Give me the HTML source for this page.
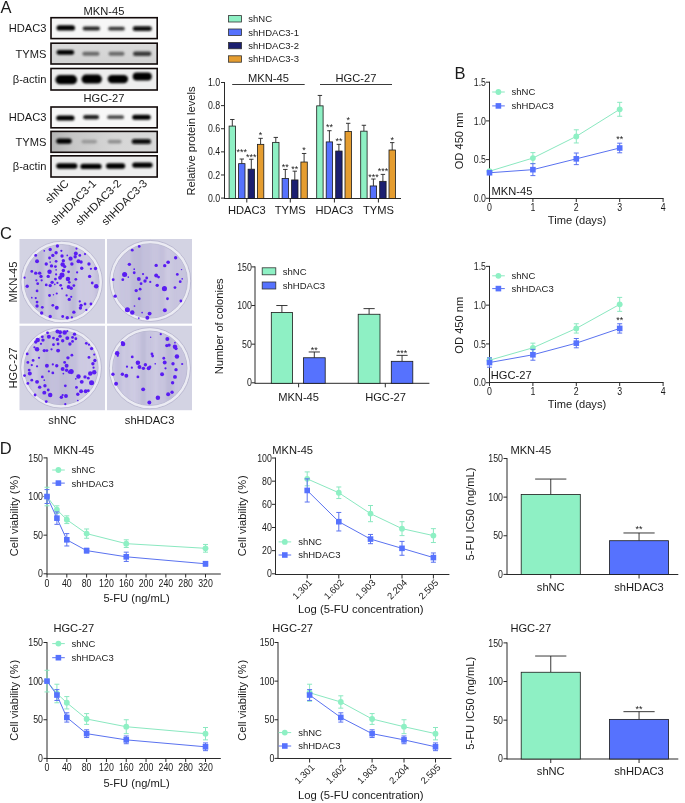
<!DOCTYPE html>
<html><head><meta charset="utf-8"><style>
html,body{margin:0;padding:0;background:#fff;}
svg{display:block;font-family:"Liberation Sans", sans-serif;filter:blur(0.4px);}
</style></head><body>
<svg width="685" height="803" viewBox="0 0 685 803">
<rect width="685" height="803" fill="#fff"/>
<text x="0.60" y="12.60" font-size="16.5" text-anchor="start" fill="#1a1a1a">A</text>
<text x="454.40" y="78.90" font-size="16.5" text-anchor="start" fill="#1a1a1a">B</text>
<text x="0.00" y="239.00" font-size="16.5" text-anchor="start" fill="#1a1a1a">C</text>
<text x="-0.20" y="454.30" font-size="16.5" text-anchor="start" fill="#1a1a1a">D</text>
<defs><linearGradient id="g5" x1="0" x2="1" y1="0" y2="0"><stop offset="0" stop-color="#b4b4b4"/><stop offset="0.2" stop-color="#c6c6c6"/><stop offset="0.6" stop-color="#d6d6d6"/><stop offset="1" stop-color="#d8d8d8"/></linearGradient><linearGradient id="g2" x1="0" x2="0" y1="0" y2="1"><stop offset="0" stop-color="#dadada"/><stop offset="1" stop-color="#d2d2d2"/></linearGradient></defs>
<defs><filter id="bl" x="-30%" y="-100%" width="160%" height="300%"><feGaussianBlur stdDeviation="0.85"/></filter><filter id="bl2" x="-30%" y="-100%" width="160%" height="300%"><feGaussianBlur stdDeviation="0.6"/></filter></defs>
<rect x="51.00" y="17.70" width="106.20" height="20.90" fill="#f6f6f6" stroke="#120a0a" stroke-width="1.6"/>
<rect x="56.50" y="25.20" width="18.50" height="5.40" rx="2.70" fill="rgb(0,0,0)" filter="url(#bl)"/>
<rect x="82.70" y="26.40" width="17.30" height="4.00" rx="2.00" fill="rgb(38,38,38)" filter="url(#bl)"/>
<rect x="108.20" y="26.80" width="16.60" height="3.80" rx="1.90" fill="rgb(57,57,57)" filter="url(#bl)"/>
<rect x="132.70" y="26.30" width="19.10" height="4.80" rx="2.40" fill="rgb(9,9,9)" filter="url(#bl)"/>
<rect x="51.00" y="43.20" width="106.20" height="20.80" fill="url(#g2)" stroke="#120a0a" stroke-width="1.6"/>
<rect x="56.50" y="50.00" width="17.70" height="4.80" rx="2.40" fill="rgb(0,0,0)" filter="url(#bl)"/>
<rect x="82.30" y="51.70" width="17.20" height="4.00" rx="2.00" fill="rgb(105,105,105)" filter="url(#bl)"/>
<rect x="108.50" y="51.70" width="16.00" height="4.00" rx="2.00" fill="rgb(105,105,105)" filter="url(#bl)"/>
<rect x="133.00" y="51.50" width="18.30" height="4.40" rx="2.20" fill="rgb(57,57,57)" filter="url(#bl)"/>
<rect x="51.00" y="68.50" width="106.20" height="21.50" fill="#eeeeee" stroke="#120a0a" stroke-width="1.6"/>
<rect x="55.40" y="75.10" width="21.70" height="9.20" rx="4.60" fill="rgb(0,0,0)" filter="url(#bl)"/>
<rect x="81.50" y="74.60" width="20.50" height="9.00" rx="4.50" fill="rgb(0,0,0)" filter="url(#bl)"/>
<rect x="107.70" y="74.90" width="20.40" height="8.40" rx="4.20" fill="rgb(0,0,0)" filter="url(#bl)"/>
<rect x="132.70" y="72.60" width="19.10" height="7.80" rx="3.90" fill="rgb(0,0,0)" filter="url(#bl)"/>
<rect x="51.00" y="107.00" width="106.20" height="20.80" fill="#f7f7f7" stroke="#120a0a" stroke-width="1.6"/>
<rect x="56.20" y="115.40" width="18.30" height="5.20" rx="2.60" fill="rgb(0,0,0)" filter="url(#bl)"/>
<rect x="83.20" y="115.10" width="15.80" height="4.20" rx="2.10" fill="rgb(28,28,28)" filter="url(#bl)"/>
<rect x="107.20" y="115.30" width="16.80" height="3.80" rx="1.90" fill="rgb(76,76,76)" filter="url(#bl)"/>
<rect x="132.20" y="114.70" width="18.50" height="5.00" rx="2.50" fill="rgb(0,0,0)" filter="url(#bl)"/>
<rect x="51.00" y="131.40" width="106.20" height="20.90" fill="url(#g5)" stroke="#120a0a" stroke-width="1.6"/>
<rect x="56.20" y="138.50" width="15.50" height="5.20" rx="2.60" fill="rgb(0,0,0)" filter="url(#bl)"/>
<rect x="81.50" y="139.70" width="15.50" height="3.80" rx="1.90" fill="rgb(153,153,153)" filter="url(#bl)"/>
<rect x="107.70" y="139.70" width="13.90" height="3.80" rx="1.90" fill="rgb(143,143,143)" filter="url(#bl)"/>
<rect x="131.70" y="138.90" width="19.30" height="5.00" rx="2.50" fill="rgb(9,9,9)" filter="url(#bl)"/>
<rect x="51.00" y="155.80" width="106.20" height="21.20" fill="#eeeeee" stroke="#120a0a" stroke-width="1.6"/>
<rect x="56.20" y="163.30" width="21.20" height="5.40" rx="2.70" fill="rgb(0,0,0)" filter="url(#bl)"/>
<rect x="80.40" y="163.80" width="21.20" height="5.20" rx="2.60" fill="rgb(0,0,0)" filter="url(#bl)"/>
<rect x="106.00" y="163.30" width="19.20" height="5.40" rx="2.70" fill="rgb(0,0,0)" filter="url(#bl)"/>
<rect x="132.20" y="162.50" width="20.40" height="5.20" rx="2.60" fill="rgb(0,0,0)" filter="url(#bl)"/>
<text x="46.40" y="32.05" font-size="11.15" text-anchor="end" fill="#1a1a1a">HDAC3</text>
<text x="46.40" y="57.50" font-size="11.15" text-anchor="end" fill="#1a1a1a">TYMS</text>
<text x="46.40" y="83.15" font-size="11.15" text-anchor="end" fill="#1a1a1a">β-actin</text>
<text x="46.40" y="121.30" font-size="11.15" text-anchor="end" fill="#1a1a1a">HDAC3</text>
<text x="46.40" y="145.75" font-size="11.15" text-anchor="end" fill="#1a1a1a">TYMS</text>
<text x="46.40" y="170.30" font-size="11.15" text-anchor="end" fill="#1a1a1a">β-actin</text>
<text x="104.00" y="14.80" font-size="11.15" text-anchor="middle" fill="#1a1a1a">MKN-45</text>
<text x="104.00" y="101.80" font-size="11.15" text-anchor="middle" fill="#1a1a1a">HGC-27</text>
<text x="69.50" y="184.20" font-size="11.15" text-anchor="end" fill="#1a1a1a" transform="rotate(-45 69.5 184.2)">shNC</text>
<text x="97.00" y="184.00" font-size="11.15" text-anchor="end" fill="#1a1a1a" transform="rotate(-45 97 184)">shHDAC3-1</text>
<text x="122.00" y="184.00" font-size="11.15" text-anchor="end" fill="#1a1a1a" transform="rotate(-45 122 184)">shHDAC3-2</text>
<text x="148.00" y="184.00" font-size="11.15" text-anchor="end" fill="#1a1a1a" transform="rotate(-45 148 184)">shHDAC3-3</text>
<line x1="224.50" y1="82.00" x2="224.50" y2="199.00" stroke="#2a2a2a" stroke-width="1"/>
<line x1="224.50" y1="198.50" x2="401.00" y2="198.50" stroke="#2a2a2a" stroke-width="1"/>
<line x1="221.00" y1="198.10" x2="224.50" y2="198.10" stroke="#2a2a2a" stroke-width="1"/>
<text transform="translate(220.20 201.72) scale(1 1.15)" font-size="8.8" text-anchor="end" fill="#1a1a1a">0.0</text>
<line x1="221.00" y1="174.98" x2="224.50" y2="174.98" stroke="#2a2a2a" stroke-width="1"/>
<text transform="translate(220.20 178.60) scale(1 1.15)" font-size="8.8" text-anchor="end" fill="#1a1a1a">0.2</text>
<line x1="221.00" y1="151.86" x2="224.50" y2="151.86" stroke="#2a2a2a" stroke-width="1"/>
<text transform="translate(220.20 155.48) scale(1 1.15)" font-size="8.8" text-anchor="end" fill="#1a1a1a">0.4</text>
<line x1="221.00" y1="128.74" x2="224.50" y2="128.74" stroke="#2a2a2a" stroke-width="1"/>
<text transform="translate(220.20 132.36) scale(1 1.15)" font-size="8.8" text-anchor="end" fill="#1a1a1a">0.6</text>
<line x1="221.00" y1="105.62" x2="224.50" y2="105.62" stroke="#2a2a2a" stroke-width="1"/>
<text transform="translate(220.20 109.24) scale(1 1.15)" font-size="8.8" text-anchor="end" fill="#1a1a1a">0.8</text>
<line x1="221.00" y1="82.50" x2="224.50" y2="82.50" stroke="#2a2a2a" stroke-width="1"/>
<text transform="translate(220.20 86.12) scale(1 1.15)" font-size="8.8" text-anchor="end" fill="#1a1a1a">1.0</text>
<line x1="246.80" y1="198.50" x2="246.80" y2="202.50" stroke="#2a2a2a" stroke-width="1"/>
<text x="246.80" y="214.40" font-size="11.15" text-anchor="middle" fill="#1a1a1a">HDAC3</text>
<line x1="290.30" y1="198.50" x2="290.30" y2="202.50" stroke="#2a2a2a" stroke-width="1"/>
<text x="290.30" y="214.40" font-size="11.15" text-anchor="middle" fill="#1a1a1a">TYMS</text>
<line x1="334.40" y1="198.50" x2="334.40" y2="202.50" stroke="#2a2a2a" stroke-width="1"/>
<text x="334.40" y="214.40" font-size="11.15" text-anchor="middle" fill="#1a1a1a">HDAC3</text>
<line x1="378.40" y1="198.50" x2="378.40" y2="202.50" stroke="#2a2a2a" stroke-width="1"/>
<text x="378.40" y="214.40" font-size="11.15" text-anchor="middle" fill="#1a1a1a">TYMS</text>
<line x1="232.30" y1="126.08" x2="232.30" y2="119.49" stroke="#222" stroke-width="0.9"/>
<line x1="230.10" y1="119.49" x2="234.50" y2="119.49" stroke="#222" stroke-width="0.9"/>
<rect x="229.10" y="126.08" width="6.40" height="72.42" fill="#8ef0c4" stroke="#1a1a1a" stroke-width="0.8"/>
<line x1="241.80" y1="163.65" x2="241.80" y2="159.03" stroke="#222" stroke-width="0.9"/>
<line x1="239.60" y1="159.03" x2="244.00" y2="159.03" stroke="#222" stroke-width="0.9"/>
<rect x="238.60" y="163.65" width="6.40" height="34.85" fill="#5672fe" stroke="#1a1a1a" stroke-width="0.8"/>
<text x="241.80" y="155.38" font-size="9" text-anchor="middle" fill="#1a1a1a">***</text>
<line x1="251.30" y1="169.20" x2="251.30" y2="159.26" stroke="#222" stroke-width="0.9"/>
<line x1="249.10" y1="159.26" x2="253.50" y2="159.26" stroke="#222" stroke-width="0.9"/>
<rect x="248.10" y="169.20" width="6.40" height="29.30" fill="#1b1f70" stroke="#1a1a1a" stroke-width="0.8"/>
<text x="251.30" y="160.38" font-size="9" text-anchor="middle" fill="#1a1a1a">***</text>
<line x1="260.60" y1="144.35" x2="260.60" y2="138.33" stroke="#222" stroke-width="0.9"/>
<line x1="258.40" y1="138.33" x2="262.80" y2="138.33" stroke="#222" stroke-width="0.9"/>
<rect x="257.40" y="144.35" width="6.40" height="54.15" fill="#e59d30" stroke="#1a1a1a" stroke-width="0.8"/>
<text x="260.60" y="138.38" font-size="9" text-anchor="middle" fill="#1a1a1a">*</text>
<line x1="275.80" y1="142.38" x2="275.80" y2="137.41" stroke="#222" stroke-width="0.9"/>
<line x1="273.60" y1="137.41" x2="278.00" y2="137.41" stroke="#222" stroke-width="0.9"/>
<rect x="272.60" y="142.38" width="6.40" height="56.12" fill="#8ef0c4" stroke="#1a1a1a" stroke-width="0.8"/>
<line x1="285.30" y1="178.45" x2="285.30" y2="169.43" stroke="#222" stroke-width="0.9"/>
<line x1="283.10" y1="169.43" x2="287.50" y2="169.43" stroke="#222" stroke-width="0.9"/>
<rect x="282.10" y="178.45" width="6.40" height="20.05" fill="#5672fe" stroke="#1a1a1a" stroke-width="0.8"/>
<text x="285.30" y="170.18" font-size="9" text-anchor="middle" fill="#1a1a1a">**</text>
<line x1="294.80" y1="179.95" x2="294.80" y2="171.17" stroke="#222" stroke-width="0.9"/>
<line x1="292.60" y1="171.17" x2="297.00" y2="171.17" stroke="#222" stroke-width="0.9"/>
<rect x="291.60" y="179.95" width="6.40" height="18.55" fill="#1b1f70" stroke="#1a1a1a" stroke-width="0.8"/>
<text x="294.80" y="171.68" font-size="9" text-anchor="middle" fill="#1a1a1a">**</text>
<line x1="304.10" y1="162.03" x2="304.10" y2="153.48" stroke="#222" stroke-width="0.9"/>
<line x1="301.90" y1="153.48" x2="306.30" y2="153.48" stroke="#222" stroke-width="0.9"/>
<rect x="300.90" y="162.03" width="6.40" height="36.47" fill="#e59d30" stroke="#1a1a1a" stroke-width="0.8"/>
<text x="304.10" y="152.68" font-size="9" text-anchor="middle" fill="#1a1a1a">*</text>
<line x1="319.90" y1="105.85" x2="319.90" y2="95.45" stroke="#222" stroke-width="0.9"/>
<line x1="317.70" y1="95.45" x2="322.10" y2="95.45" stroke="#222" stroke-width="0.9"/>
<rect x="316.70" y="105.85" width="6.40" height="92.65" fill="#8ef0c4" stroke="#1a1a1a" stroke-width="0.8"/>
<line x1="329.40" y1="141.92" x2="329.40" y2="130.71" stroke="#222" stroke-width="0.9"/>
<line x1="327.20" y1="130.71" x2="331.60" y2="130.71" stroke="#222" stroke-width="0.9"/>
<rect x="326.20" y="141.92" width="6.40" height="56.58" fill="#5672fe" stroke="#1a1a1a" stroke-width="0.8"/>
<text x="329.40" y="130.48" font-size="9" text-anchor="middle" fill="#1a1a1a">**</text>
<line x1="338.90" y1="151.05" x2="338.90" y2="144.35" stroke="#222" stroke-width="0.9"/>
<line x1="336.70" y1="144.35" x2="341.10" y2="144.35" stroke="#222" stroke-width="0.9"/>
<rect x="335.70" y="151.05" width="6.40" height="47.45" fill="#1b1f70" stroke="#1a1a1a" stroke-width="0.8"/>
<text x="338.90" y="143.58" font-size="9" text-anchor="middle" fill="#1a1a1a">**</text>
<line x1="348.20" y1="131.51" x2="348.20" y2="123.31" stroke="#222" stroke-width="0.9"/>
<line x1="346.00" y1="123.31" x2="350.40" y2="123.31" stroke="#222" stroke-width="0.9"/>
<rect x="345.00" y="131.51" width="6.40" height="66.99" fill="#e59d30" stroke="#1a1a1a" stroke-width="0.8"/>
<text x="348.20" y="123.48" font-size="9" text-anchor="middle" fill="#1a1a1a">*</text>
<line x1="363.90" y1="131.17" x2="363.90" y2="125.27" stroke="#222" stroke-width="0.9"/>
<line x1="361.70" y1="125.27" x2="366.10" y2="125.27" stroke="#222" stroke-width="0.9"/>
<rect x="360.70" y="131.17" width="6.40" height="67.33" fill="#8ef0c4" stroke="#1a1a1a" stroke-width="0.8"/>
<line x1="373.40" y1="185.96" x2="373.40" y2="179.03" stroke="#222" stroke-width="0.9"/>
<line x1="371.20" y1="179.03" x2="375.60" y2="179.03" stroke="#222" stroke-width="0.9"/>
<rect x="370.20" y="185.96" width="6.40" height="12.54" fill="#5672fe" stroke="#1a1a1a" stroke-width="0.8"/>
<text x="373.40" y="179.58" font-size="9" text-anchor="middle" fill="#1a1a1a">***</text>
<line x1="382.90" y1="181.34" x2="382.90" y2="174.40" stroke="#222" stroke-width="0.9"/>
<line x1="380.70" y1="174.40" x2="385.10" y2="174.40" stroke="#222" stroke-width="0.9"/>
<rect x="379.70" y="181.34" width="6.40" height="17.16" fill="#1b1f70" stroke="#1a1a1a" stroke-width="0.8"/>
<text x="382.90" y="173.88" font-size="9" text-anchor="middle" fill="#1a1a1a">***</text>
<line x1="392.20" y1="150.01" x2="392.20" y2="142.61" stroke="#222" stroke-width="0.9"/>
<line x1="390.00" y1="142.61" x2="394.40" y2="142.61" stroke="#222" stroke-width="0.9"/>
<rect x="389.00" y="150.01" width="6.40" height="48.49" fill="#e59d30" stroke="#1a1a1a" stroke-width="0.8"/>
<text x="392.20" y="143.38" font-size="9" text-anchor="middle" fill="#1a1a1a">*</text>
<line x1="232.20" y1="84.50" x2="304.70" y2="84.50" stroke="#222" stroke-width="0.9"/>
<line x1="320.00" y1="84.50" x2="392.00" y2="84.50" stroke="#222" stroke-width="0.9"/>
<text x="268.50" y="81.50" font-size="11.15" text-anchor="middle" fill="#1a1a1a">MKN-45</text>
<text x="356.00" y="81.50" font-size="11.15" text-anchor="middle" fill="#1a1a1a">HGC-27</text>
<text x="194.80" y="141.00" font-size="11.15" text-anchor="middle" fill="#1a1a1a" transform="rotate(-90 194.8 141)">Relative protein levels</text>
<rect x="228.40" y="15.60" width="13.20" height="6.40" fill="#8ef0c4" stroke="#333" stroke-width="0.8"/>
<text x="248.30" y="22.20" font-size="9.5" text-anchor="start" fill="#1a1a1a">shNC</text>
<rect x="228.40" y="29.00" width="13.20" height="6.40" fill="#5672fe" stroke="#333" stroke-width="0.8"/>
<text x="248.30" y="35.60" font-size="9.5" text-anchor="start" fill="#1a1a1a">shHDAC3-1</text>
<rect x="228.40" y="42.40" width="13.20" height="6.40" fill="#1b1f70" stroke="#333" stroke-width="0.8"/>
<text x="248.30" y="49.00" font-size="9.5" text-anchor="start" fill="#1a1a1a">shHDAC3-2</text>
<rect x="228.40" y="55.80" width="13.20" height="6.40" fill="#e59d30" stroke="#333" stroke-width="0.8"/>
<text x="248.30" y="62.40" font-size="9.5" text-anchor="start" fill="#1a1a1a">shHDAC3-3</text>
<line x1="489.50" y1="81.70" x2="489.50" y2="199.00" stroke="#2a2a2a" stroke-width="1"/>
<line x1="489.50" y1="198.50" x2="663.60" y2="198.50" stroke="#2a2a2a" stroke-width="1"/>
<line x1="486.00" y1="198.30" x2="489.50" y2="198.30" stroke="#2a2a2a" stroke-width="1"/>
<text transform="translate(486.00 201.92) scale(1 1.15)" font-size="8.8" text-anchor="end" fill="#1a1a1a">0.0</text>
<line x1="486.00" y1="159.60" x2="489.50" y2="159.60" stroke="#2a2a2a" stroke-width="1"/>
<text transform="translate(486.00 163.22) scale(1 1.15)" font-size="8.8" text-anchor="end" fill="#1a1a1a">0.5</text>
<line x1="486.00" y1="120.90" x2="489.50" y2="120.90" stroke="#2a2a2a" stroke-width="1"/>
<text transform="translate(486.00 124.52) scale(1 1.15)" font-size="8.8" text-anchor="end" fill="#1a1a1a">1.0</text>
<line x1="486.00" y1="82.20" x2="489.50" y2="82.20" stroke="#2a2a2a" stroke-width="1"/>
<text transform="translate(486.00 85.82) scale(1 1.15)" font-size="8.8" text-anchor="end" fill="#1a1a1a">1.5</text>
<line x1="489.50" y1="198.50" x2="489.50" y2="202.00" stroke="#2a2a2a" stroke-width="1"/>
<text transform="translate(489.50 210.92) scale(1 1.15)" font-size="8.8" text-anchor="middle" fill="#1a1a1a">0</text>
<line x1="532.90" y1="198.50" x2="532.90" y2="202.00" stroke="#2a2a2a" stroke-width="1"/>
<text transform="translate(532.90 210.92) scale(1 1.15)" font-size="8.8" text-anchor="middle" fill="#1a1a1a">1</text>
<line x1="576.30" y1="198.50" x2="576.30" y2="202.00" stroke="#2a2a2a" stroke-width="1"/>
<text transform="translate(576.30 210.92) scale(1 1.15)" font-size="8.8" text-anchor="middle" fill="#1a1a1a">2</text>
<line x1="619.70" y1="198.50" x2="619.70" y2="202.00" stroke="#2a2a2a" stroke-width="1"/>
<text transform="translate(619.70 210.92) scale(1 1.15)" font-size="8.8" text-anchor="middle" fill="#1a1a1a">3</text>
<line x1="663.10" y1="198.50" x2="663.10" y2="202.00" stroke="#2a2a2a" stroke-width="1"/>
<text transform="translate(663.10 210.92) scale(1 1.15)" font-size="8.8" text-anchor="middle" fill="#1a1a1a">4</text>
<text x="577.00" y="223.50" font-size="11.15" text-anchor="middle" fill="#1a1a1a">Time (days)</text>
<text x="463.20" y="140.85" font-size="11.15" text-anchor="middle" fill="#1a1a1a" transform="rotate(-90 463.2 140.85)">OD 450 nm</text>
<text x="491.60" y="195.00" font-size="11.15" text-anchor="start" fill="#1a1a1a">MKN-45</text>
<polyline points="489.50,171.21 532.90,158.05 576.30,136.38 619.70,109.29" fill="none" stroke="#8ae8c0" stroke-width="1"/>
<line x1="489.50" y1="172.76" x2="489.50" y2="169.66" stroke="#8ae8c0" stroke-width="1"/>
<line x1="487.00" y1="172.76" x2="492.00" y2="172.76" stroke="#8ae8c0" stroke-width="1"/>
<line x1="487.00" y1="169.66" x2="492.00" y2="169.66" stroke="#8ae8c0" stroke-width="1"/>
<circle cx="489.50" cy="171.21" r="2.9" fill="#8ef0c4"/>
<line x1="532.90" y1="163.47" x2="532.90" y2="152.63" stroke="#8ae8c0" stroke-width="1"/>
<line x1="530.40" y1="163.47" x2="535.40" y2="163.47" stroke="#8ae8c0" stroke-width="1"/>
<line x1="530.40" y1="152.63" x2="535.40" y2="152.63" stroke="#8ae8c0" stroke-width="1"/>
<circle cx="532.90" cy="158.05" r="2.9" fill="#8ef0c4"/>
<line x1="576.30" y1="142.96" x2="576.30" y2="129.80" stroke="#8ae8c0" stroke-width="1"/>
<line x1="573.80" y1="142.96" x2="578.80" y2="142.96" stroke="#8ae8c0" stroke-width="1"/>
<line x1="573.80" y1="129.80" x2="578.80" y2="129.80" stroke="#8ae8c0" stroke-width="1"/>
<circle cx="576.30" cy="136.38" r="2.9" fill="#8ef0c4"/>
<line x1="619.70" y1="116.26" x2="619.70" y2="102.32" stroke="#8ae8c0" stroke-width="1"/>
<line x1="617.20" y1="116.26" x2="622.20" y2="116.26" stroke="#8ae8c0" stroke-width="1"/>
<line x1="617.20" y1="102.32" x2="622.20" y2="102.32" stroke="#8ae8c0" stroke-width="1"/>
<circle cx="619.70" cy="109.29" r="2.9" fill="#8ef0c4"/>
<polyline points="489.50,172.76 532.90,169.66 576.30,158.83 619.70,147.99" fill="none" stroke="#5a72f0" stroke-width="1"/>
<line x1="489.50" y1="174.31" x2="489.50" y2="171.21" stroke="#5a72f0" stroke-width="1"/>
<line x1="487.00" y1="174.31" x2="492.00" y2="174.31" stroke="#5a72f0" stroke-width="1"/>
<line x1="487.00" y1="171.21" x2="492.00" y2="171.21" stroke="#5a72f0" stroke-width="1"/>
<rect x="486.70" y="169.96" width="5.60" height="5.60" fill="#5672fe"/>
<line x1="532.90" y1="175.62" x2="532.90" y2="163.70" stroke="#5a72f0" stroke-width="1"/>
<line x1="530.40" y1="175.62" x2="535.40" y2="175.62" stroke="#5a72f0" stroke-width="1"/>
<line x1="530.40" y1="163.70" x2="535.40" y2="163.70" stroke="#5a72f0" stroke-width="1"/>
<rect x="530.10" y="166.86" width="5.60" height="5.60" fill="#5672fe"/>
<line x1="576.30" y1="164.63" x2="576.30" y2="153.02" stroke="#5a72f0" stroke-width="1"/>
<line x1="573.80" y1="164.63" x2="578.80" y2="164.63" stroke="#5a72f0" stroke-width="1"/>
<line x1="573.80" y1="153.02" x2="578.80" y2="153.02" stroke="#5a72f0" stroke-width="1"/>
<rect x="573.50" y="156.03" width="5.60" height="5.60" fill="#5672fe"/>
<line x1="619.70" y1="152.79" x2="619.70" y2="143.19" stroke="#5a72f0" stroke-width="1"/>
<line x1="617.20" y1="152.79" x2="622.20" y2="152.79" stroke="#5a72f0" stroke-width="1"/>
<line x1="617.20" y1="143.19" x2="622.20" y2="143.19" stroke="#5a72f0" stroke-width="1"/>
<rect x="616.90" y="145.19" width="5.60" height="5.60" fill="#5672fe"/>
<text x="619.70" y="142.08" font-size="9" text-anchor="middle" fill="#1a1a1a">**</text>
<line x1="492.20" y1="92.00" x2="504.80" y2="92.00" stroke="#8ae8c0" stroke-width="1"/>
<circle cx="498.40" cy="92.00" r="2.9" fill="#8ef0c4"/>
<text x="511.50" y="95.40" font-size="9.5" text-anchor="start" fill="#1a1a1a">shNC</text>
<line x1="492.20" y1="105.90" x2="504.80" y2="105.90" stroke="#5a72f0" stroke-width="1"/>
<rect x="495.60" y="103.10" width="5.60" height="5.60" fill="#5672fe"/>
<text x="511.50" y="109.30" font-size="9.5" text-anchor="start" fill="#1a1a1a">shHDAC3</text>
<line x1="489.50" y1="265.88" x2="489.50" y2="383.00" stroke="#2a2a2a" stroke-width="1"/>
<line x1="489.50" y1="382.50" x2="663.60" y2="382.50" stroke="#2a2a2a" stroke-width="1"/>
<line x1="486.00" y1="382.70" x2="489.50" y2="382.70" stroke="#2a2a2a" stroke-width="1"/>
<text transform="translate(486.00 386.32) scale(1 1.15)" font-size="8.8" text-anchor="end" fill="#1a1a1a">0.0</text>
<line x1="486.00" y1="343.93" x2="489.50" y2="343.93" stroke="#2a2a2a" stroke-width="1"/>
<text transform="translate(486.00 347.55) scale(1 1.15)" font-size="8.8" text-anchor="end" fill="#1a1a1a">0.5</text>
<line x1="486.00" y1="305.15" x2="489.50" y2="305.15" stroke="#2a2a2a" stroke-width="1"/>
<text transform="translate(486.00 308.77) scale(1 1.15)" font-size="8.8" text-anchor="end" fill="#1a1a1a">1.0</text>
<line x1="486.00" y1="266.38" x2="489.50" y2="266.38" stroke="#2a2a2a" stroke-width="1"/>
<text transform="translate(486.00 270.00) scale(1 1.15)" font-size="8.8" text-anchor="end" fill="#1a1a1a">1.5</text>
<line x1="489.50" y1="382.50" x2="489.50" y2="386.00" stroke="#2a2a2a" stroke-width="1"/>
<text transform="translate(489.50 395.32) scale(1 1.15)" font-size="8.8" text-anchor="middle" fill="#1a1a1a">0</text>
<line x1="532.90" y1="382.50" x2="532.90" y2="386.00" stroke="#2a2a2a" stroke-width="1"/>
<text transform="translate(532.90 395.32) scale(1 1.15)" font-size="8.8" text-anchor="middle" fill="#1a1a1a">1</text>
<line x1="576.30" y1="382.50" x2="576.30" y2="386.00" stroke="#2a2a2a" stroke-width="1"/>
<text transform="translate(576.30 395.32) scale(1 1.15)" font-size="8.8" text-anchor="middle" fill="#1a1a1a">2</text>
<line x1="619.70" y1="382.50" x2="619.70" y2="386.00" stroke="#2a2a2a" stroke-width="1"/>
<text transform="translate(619.70 395.32) scale(1 1.15)" font-size="8.8" text-anchor="middle" fill="#1a1a1a">3</text>
<line x1="663.10" y1="382.50" x2="663.10" y2="386.00" stroke="#2a2a2a" stroke-width="1"/>
<text transform="translate(663.10 395.32) scale(1 1.15)" font-size="8.8" text-anchor="middle" fill="#1a1a1a">4</text>
<text x="577.00" y="407.90" font-size="11.15" text-anchor="middle" fill="#1a1a1a">Time (days)</text>
<text x="463.20" y="325.14" font-size="11.15" text-anchor="middle" fill="#1a1a1a" transform="rotate(-90 463.2 325.13750000000005)">OD 450 nm</text>
<text x="490.80" y="379.40" font-size="11.15" text-anchor="start" fill="#1a1a1a">HGC-27</text>
<polyline points="489.50,360.21 532.90,347.80 576.30,328.41 619.70,304.37" fill="none" stroke="#8ae8c0" stroke-width="1"/>
<line x1="489.50" y1="362.54" x2="489.50" y2="357.88" stroke="#8ae8c0" stroke-width="1"/>
<line x1="487.00" y1="362.54" x2="492.00" y2="362.54" stroke="#8ae8c0" stroke-width="1"/>
<line x1="487.00" y1="357.88" x2="492.00" y2="357.88" stroke="#8ae8c0" stroke-width="1"/>
<circle cx="489.50" cy="360.21" r="2.9" fill="#8ef0c4"/>
<line x1="532.90" y1="352.46" x2="532.90" y2="343.15" stroke="#8ae8c0" stroke-width="1"/>
<line x1="530.40" y1="352.46" x2="535.40" y2="352.46" stroke="#8ae8c0" stroke-width="1"/>
<line x1="530.40" y1="343.15" x2="535.40" y2="343.15" stroke="#8ae8c0" stroke-width="1"/>
<circle cx="532.90" cy="347.80" r="2.9" fill="#8ef0c4"/>
<line x1="576.30" y1="333.07" x2="576.30" y2="323.76" stroke="#8ae8c0" stroke-width="1"/>
<line x1="573.80" y1="333.07" x2="578.80" y2="333.07" stroke="#8ae8c0" stroke-width="1"/>
<line x1="573.80" y1="323.76" x2="578.80" y2="323.76" stroke="#8ae8c0" stroke-width="1"/>
<circle cx="576.30" cy="328.41" r="2.9" fill="#8ef0c4"/>
<line x1="619.70" y1="311.35" x2="619.70" y2="297.39" stroke="#8ae8c0" stroke-width="1"/>
<line x1="617.20" y1="311.35" x2="622.20" y2="311.35" stroke="#8ae8c0" stroke-width="1"/>
<line x1="617.20" y1="297.39" x2="622.20" y2="297.39" stroke="#8ae8c0" stroke-width="1"/>
<circle cx="619.70" cy="304.37" r="2.9" fill="#8ef0c4"/>
<polyline points="489.50,362.54 532.90,354.78 576.30,343.15 619.70,328.41" fill="none" stroke="#5a72f0" stroke-width="1"/>
<line x1="489.50" y1="367.19" x2="489.50" y2="357.88" stroke="#5a72f0" stroke-width="1"/>
<line x1="487.00" y1="367.19" x2="492.00" y2="367.19" stroke="#5a72f0" stroke-width="1"/>
<line x1="487.00" y1="357.88" x2="492.00" y2="357.88" stroke="#5a72f0" stroke-width="1"/>
<rect x="486.70" y="359.74" width="5.60" height="5.60" fill="#5672fe"/>
<line x1="532.90" y1="360.21" x2="532.90" y2="349.35" stroke="#5a72f0" stroke-width="1"/>
<line x1="530.40" y1="360.21" x2="535.40" y2="360.21" stroke="#5a72f0" stroke-width="1"/>
<line x1="530.40" y1="349.35" x2="535.40" y2="349.35" stroke="#5a72f0" stroke-width="1"/>
<rect x="530.10" y="351.98" width="5.60" height="5.60" fill="#5672fe"/>
<line x1="576.30" y1="347.80" x2="576.30" y2="338.50" stroke="#5a72f0" stroke-width="1"/>
<line x1="573.80" y1="347.80" x2="578.80" y2="347.80" stroke="#5a72f0" stroke-width="1"/>
<line x1="573.80" y1="338.50" x2="578.80" y2="338.50" stroke="#5a72f0" stroke-width="1"/>
<rect x="573.50" y="340.35" width="5.60" height="5.60" fill="#5672fe"/>
<line x1="619.70" y1="333.07" x2="619.70" y2="323.76" stroke="#5a72f0" stroke-width="1"/>
<line x1="617.20" y1="333.07" x2="622.20" y2="333.07" stroke="#5a72f0" stroke-width="1"/>
<line x1="617.20" y1="323.76" x2="622.20" y2="323.76" stroke="#5a72f0" stroke-width="1"/>
<rect x="616.90" y="325.61" width="5.60" height="5.60" fill="#5672fe"/>
<text x="619.70" y="323.38" font-size="9" text-anchor="middle" fill="#1a1a1a">**</text>
<line x1="492.20" y1="275.80" x2="504.80" y2="275.80" stroke="#8ae8c0" stroke-width="1"/>
<circle cx="498.40" cy="275.80" r="2.9" fill="#8ef0c4"/>
<text x="511.50" y="279.20" font-size="9.5" text-anchor="start" fill="#1a1a1a">shNC</text>
<line x1="492.20" y1="288.60" x2="504.80" y2="288.60" stroke="#5a72f0" stroke-width="1"/>
<rect x="495.60" y="285.80" width="5.60" height="5.60" fill="#5672fe"/>
<text x="511.50" y="292.00" font-size="9.5" text-anchor="start" fill="#1a1a1a">shHDAC3</text>
<line x1="255.00" y1="266.39" x2="255.00" y2="383.80" stroke="#2a2a2a" stroke-width="1"/>
<line x1="255.00" y1="383.30" x2="429.40" y2="383.30" stroke="#2a2a2a" stroke-width="1"/>
<line x1="251.50" y1="382.80" x2="255.00" y2="382.80" stroke="#2a2a2a" stroke-width="1"/>
<text transform="translate(251.80 386.42) scale(1 1.15)" font-size="8.8" text-anchor="end" fill="#1a1a1a">0</text>
<line x1="251.50" y1="344.17" x2="255.00" y2="344.17" stroke="#2a2a2a" stroke-width="1"/>
<text transform="translate(251.80 347.79) scale(1 1.15)" font-size="8.8" text-anchor="end" fill="#1a1a1a">50</text>
<line x1="251.50" y1="305.53" x2="255.00" y2="305.53" stroke="#2a2a2a" stroke-width="1"/>
<text transform="translate(251.80 309.15) scale(1 1.15)" font-size="8.8" text-anchor="end" fill="#1a1a1a">100</text>
<line x1="251.50" y1="266.89" x2="255.00" y2="266.89" stroke="#2a2a2a" stroke-width="1"/>
<text transform="translate(251.80 270.52) scale(1 1.15)" font-size="8.8" text-anchor="end" fill="#1a1a1a">150</text>
<line x1="298.60" y1="383.30" x2="298.60" y2="387.30" stroke="#2a2a2a" stroke-width="1"/>
<line x1="385.30" y1="383.30" x2="385.30" y2="387.30" stroke="#2a2a2a" stroke-width="1"/>
<text x="298.60" y="400.60" font-size="11.15" text-anchor="middle" fill="#1a1a1a">MKN-45</text>
<text x="385.60" y="400.60" font-size="11.15" text-anchor="middle" fill="#1a1a1a">HGC-27</text>
<line x1="281.90" y1="312.48" x2="281.90" y2="305.53" stroke="#222" stroke-width="0.9"/>
<line x1="276.30" y1="305.53" x2="287.50" y2="305.53" stroke="#222" stroke-width="0.9"/>
<rect x="271.30" y="312.48" width="21.20" height="70.82" fill="#8ef0c4" stroke="#1a1a1a" stroke-width="0.8"/>
<line x1="314.30" y1="357.76" x2="314.30" y2="351.97" stroke="#222" stroke-width="0.9"/>
<line x1="308.70" y1="351.97" x2="319.90" y2="351.97" stroke="#222" stroke-width="0.9"/>
<rect x="303.40" y="357.76" width="21.80" height="25.54" fill="#5672fe" stroke="#1a1a1a" stroke-width="0.8"/>
<line x1="369.10" y1="314.26" x2="369.10" y2="308.62" stroke="#222" stroke-width="0.9"/>
<line x1="363.50" y1="308.62" x2="374.70" y2="308.62" stroke="#222" stroke-width="0.9"/>
<rect x="358.20" y="314.26" width="21.80" height="69.04" fill="#8ef0c4" stroke="#1a1a1a" stroke-width="0.8"/>
<line x1="402.05" y1="361.32" x2="402.05" y2="355.37" stroke="#222" stroke-width="0.9"/>
<line x1="396.45" y1="355.37" x2="407.65" y2="355.37" stroke="#222" stroke-width="0.9"/>
<rect x="391.30" y="361.32" width="21.50" height="21.98" fill="#5672fe" stroke="#1a1a1a" stroke-width="0.8"/>
<text x="314.30" y="353.48" font-size="9" text-anchor="middle" fill="#1a1a1a">**</text>
<text x="402.00" y="355.98" font-size="9" text-anchor="middle" fill="#1a1a1a">***</text>
<rect x="262.20" y="267.80" width="13.60" height="7.00" fill="#8ef0c4" stroke="#333" stroke-width="0.8"/>
<rect x="262.20" y="282.00" width="13.60" height="7.00" fill="#5672fe" stroke="#333" stroke-width="0.8"/>
<text x="282.80" y="274.60" font-size="9.5" text-anchor="start" fill="#1a1a1a">shNC</text>
<text x="282.80" y="288.80" font-size="9.5" text-anchor="start" fill="#1a1a1a">shHDAC3</text>
<text x="223.00" y="326.30" font-size="11.15" text-anchor="middle" fill="#1a1a1a" transform="rotate(-90 223.0 326.3)">Number of colonies</text>
<line x1="47.00" y1="457.39" x2="47.00" y2="574.50" stroke="#2a2a2a" stroke-width="1"/>
<line x1="47.00" y1="574.00" x2="220.80" y2="574.00" stroke="#2a2a2a" stroke-width="1"/>
<line x1="43.50" y1="573.80" x2="47.00" y2="573.80" stroke="#2a2a2a" stroke-width="1"/>
<text transform="translate(43.00 577.42) scale(1 1.15)" font-size="8.8" text-anchor="end" fill="#1a1a1a">0</text>
<line x1="43.50" y1="535.16" x2="47.00" y2="535.16" stroke="#2a2a2a" stroke-width="1"/>
<text transform="translate(43.00 538.79) scale(1 1.15)" font-size="8.8" text-anchor="end" fill="#1a1a1a">50</text>
<line x1="43.50" y1="496.53" x2="47.00" y2="496.53" stroke="#2a2a2a" stroke-width="1"/>
<text transform="translate(43.00 500.15) scale(1 1.15)" font-size="8.8" text-anchor="end" fill="#1a1a1a">100</text>
<line x1="43.50" y1="457.89" x2="47.00" y2="457.89" stroke="#2a2a2a" stroke-width="1"/>
<text transform="translate(43.00 461.52) scale(1 1.15)" font-size="8.8" text-anchor="end" fill="#1a1a1a">150</text>
<line x1="47.00" y1="574.00" x2="47.00" y2="577.50" stroke="#2a2a2a" stroke-width="1"/>
<text transform="translate(47.00 586.62) scale(1 1.15)" font-size="8.8" text-anchor="middle" fill="#1a1a1a">0</text>
<line x1="66.81" y1="574.00" x2="66.81" y2="577.50" stroke="#2a2a2a" stroke-width="1"/>
<text transform="translate(66.81 586.62) scale(1 1.15)" font-size="8.8" text-anchor="middle" fill="#1a1a1a">40</text>
<line x1="86.62" y1="574.00" x2="86.62" y2="577.50" stroke="#2a2a2a" stroke-width="1"/>
<text transform="translate(86.62 586.62) scale(1 1.15)" font-size="8.8" text-anchor="middle" fill="#1a1a1a">80</text>
<line x1="106.44" y1="574.00" x2="106.44" y2="577.50" stroke="#2a2a2a" stroke-width="1"/>
<text transform="translate(106.44 586.62) scale(1 1.15)" font-size="8.8" text-anchor="middle" fill="#1a1a1a">120</text>
<line x1="126.25" y1="574.00" x2="126.25" y2="577.50" stroke="#2a2a2a" stroke-width="1"/>
<text transform="translate(126.25 586.62) scale(1 1.15)" font-size="8.8" text-anchor="middle" fill="#1a1a1a">160</text>
<line x1="146.06" y1="574.00" x2="146.06" y2="577.50" stroke="#2a2a2a" stroke-width="1"/>
<text transform="translate(146.06 586.62) scale(1 1.15)" font-size="8.8" text-anchor="middle" fill="#1a1a1a">200</text>
<line x1="165.87" y1="574.00" x2="165.87" y2="577.50" stroke="#2a2a2a" stroke-width="1"/>
<text transform="translate(165.87 586.62) scale(1 1.15)" font-size="8.8" text-anchor="middle" fill="#1a1a1a">240</text>
<line x1="185.68" y1="574.00" x2="185.68" y2="577.50" stroke="#2a2a2a" stroke-width="1"/>
<text transform="translate(185.68 586.62) scale(1 1.15)" font-size="8.8" text-anchor="middle" fill="#1a1a1a">280</text>
<line x1="205.50" y1="574.00" x2="205.50" y2="577.50" stroke="#2a2a2a" stroke-width="1"/>
<text transform="translate(205.50 586.62) scale(1 1.15)" font-size="8.8" text-anchor="middle" fill="#1a1a1a">320</text>
<text x="136.50" y="602.20" font-size="11.15" text-anchor="middle" fill="#1a1a1a">5-FU (ng/mL)</text>
<text x="18.00" y="515.70" font-size="11.15" text-anchor="middle" fill="#1a1a1a" transform="rotate(-90 18.0 515.7)">Cell viability (<tspan dx="0.9">%</tspan><tspan dx="0.9">)</tspan></text>
<text x="53.40" y="454.20" font-size="11.15" text-anchor="start" fill="#1a1a1a">MKN-45</text>
<polyline points="47.00,496.53 56.91,509.67 66.81,519.71 86.62,533.62 126.25,543.66 205.50,548.30" fill="none" stroke="#8ae8c0" stroke-width="1"/>
<line x1="47.00" y1="505.80" x2="47.00" y2="487.26" stroke="#8ae8c0" stroke-width="1"/>
<line x1="44.50" y1="505.80" x2="49.50" y2="505.80" stroke="#8ae8c0" stroke-width="1"/>
<line x1="44.50" y1="487.26" x2="49.50" y2="487.26" stroke="#8ae8c0" stroke-width="1"/>
<circle cx="47.00" cy="496.53" r="2.9" fill="#8ef0c4"/>
<line x1="56.91" y1="513.53" x2="56.91" y2="505.80" stroke="#8ae8c0" stroke-width="1"/>
<line x1="54.41" y1="513.53" x2="59.41" y2="513.53" stroke="#8ae8c0" stroke-width="1"/>
<line x1="54.41" y1="505.80" x2="59.41" y2="505.80" stroke="#8ae8c0" stroke-width="1"/>
<circle cx="56.91" cy="509.67" r="2.9" fill="#8ef0c4"/>
<line x1="66.81" y1="523.57" x2="66.81" y2="515.85" stroke="#8ae8c0" stroke-width="1"/>
<line x1="64.31" y1="523.57" x2="69.31" y2="523.57" stroke="#8ae8c0" stroke-width="1"/>
<line x1="64.31" y1="515.85" x2="69.31" y2="515.85" stroke="#8ae8c0" stroke-width="1"/>
<circle cx="66.81" cy="519.71" r="2.9" fill="#8ef0c4"/>
<line x1="86.62" y1="538.26" x2="86.62" y2="528.98" stroke="#8ae8c0" stroke-width="1"/>
<line x1="84.12" y1="538.26" x2="89.12" y2="538.26" stroke="#8ae8c0" stroke-width="1"/>
<line x1="84.12" y1="528.98" x2="89.12" y2="528.98" stroke="#8ae8c0" stroke-width="1"/>
<circle cx="86.62" cy="533.62" r="2.9" fill="#8ef0c4"/>
<line x1="126.25" y1="547.53" x2="126.25" y2="539.80" stroke="#8ae8c0" stroke-width="1"/>
<line x1="123.75" y1="547.53" x2="128.75" y2="547.53" stroke="#8ae8c0" stroke-width="1"/>
<line x1="123.75" y1="539.80" x2="128.75" y2="539.80" stroke="#8ae8c0" stroke-width="1"/>
<circle cx="126.25" cy="543.66" r="2.9" fill="#8ef0c4"/>
<line x1="205.50" y1="552.16" x2="205.50" y2="544.44" stroke="#8ae8c0" stroke-width="1"/>
<line x1="203.00" y1="552.16" x2="208.00" y2="552.16" stroke="#8ae8c0" stroke-width="1"/>
<line x1="203.00" y1="544.44" x2="208.00" y2="544.44" stroke="#8ae8c0" stroke-width="1"/>
<circle cx="205.50" cy="548.30" r="2.9" fill="#8ef0c4"/>
<polyline points="47.00,496.53 56.91,518.17 66.81,539.80 86.62,550.62 126.25,556.80 205.50,563.75" fill="none" stroke="#5a72f0" stroke-width="1"/>
<line x1="47.00" y1="503.48" x2="47.00" y2="489.58" stroke="#5a72f0" stroke-width="1"/>
<line x1="44.50" y1="503.48" x2="49.50" y2="503.48" stroke="#5a72f0" stroke-width="1"/>
<line x1="44.50" y1="489.58" x2="49.50" y2="489.58" stroke="#5a72f0" stroke-width="1"/>
<rect x="44.20" y="493.73" width="5.60" height="5.60" fill="#5672fe"/>
<line x1="56.91" y1="524.35" x2="56.91" y2="511.98" stroke="#5a72f0" stroke-width="1"/>
<line x1="54.41" y1="524.35" x2="59.41" y2="524.35" stroke="#5a72f0" stroke-width="1"/>
<line x1="54.41" y1="511.98" x2="59.41" y2="511.98" stroke="#5a72f0" stroke-width="1"/>
<rect x="54.11" y="515.37" width="5.60" height="5.60" fill="#5672fe"/>
<line x1="66.81" y1="545.98" x2="66.81" y2="533.62" stroke="#5a72f0" stroke-width="1"/>
<line x1="64.31" y1="545.98" x2="69.31" y2="545.98" stroke="#5a72f0" stroke-width="1"/>
<line x1="64.31" y1="533.62" x2="69.31" y2="533.62" stroke="#5a72f0" stroke-width="1"/>
<rect x="64.01" y="537.00" width="5.60" height="5.60" fill="#5672fe"/>
<line x1="86.62" y1="552.94" x2="86.62" y2="548.30" stroke="#5a72f0" stroke-width="1"/>
<line x1="84.12" y1="552.94" x2="89.12" y2="552.94" stroke="#5a72f0" stroke-width="1"/>
<line x1="84.12" y1="548.30" x2="89.12" y2="548.30" stroke="#5a72f0" stroke-width="1"/>
<rect x="83.82" y="547.82" width="5.60" height="5.60" fill="#5672fe"/>
<line x1="126.25" y1="561.44" x2="126.25" y2="552.16" stroke="#5a72f0" stroke-width="1"/>
<line x1="123.75" y1="561.44" x2="128.75" y2="561.44" stroke="#5a72f0" stroke-width="1"/>
<line x1="123.75" y1="552.16" x2="128.75" y2="552.16" stroke="#5a72f0" stroke-width="1"/>
<rect x="123.45" y="554.00" width="5.60" height="5.60" fill="#5672fe"/>
<line x1="205.50" y1="566.07" x2="205.50" y2="561.44" stroke="#5a72f0" stroke-width="1"/>
<line x1="203.00" y1="566.07" x2="208.00" y2="566.07" stroke="#5a72f0" stroke-width="1"/>
<line x1="203.00" y1="561.44" x2="208.00" y2="561.44" stroke="#5a72f0" stroke-width="1"/>
<rect x="202.70" y="560.95" width="5.60" height="5.60" fill="#5672fe"/>
<line x1="52.20" y1="470.00" x2="64.80" y2="470.00" stroke="#8ae8c0" stroke-width="1"/>
<circle cx="58.40" cy="470.00" r="2.9" fill="#8ef0c4"/>
<text x="71.50" y="473.40" font-size="9.5" text-anchor="start" fill="#1a1a1a">shNC</text>
<line x1="52.20" y1="483.10" x2="64.80" y2="483.10" stroke="#5a72f0" stroke-width="1"/>
<rect x="55.60" y="480.30" width="5.60" height="5.60" fill="#5672fe"/>
<text x="71.50" y="486.50" font-size="9.5" text-anchor="start" fill="#1a1a1a">shHDAC3</text>
<line x1="47.00" y1="642.00" x2="47.00" y2="759.00" stroke="#2a2a2a" stroke-width="1"/>
<line x1="47.00" y1="758.50" x2="220.80" y2="758.50" stroke="#2a2a2a" stroke-width="1"/>
<line x1="43.50" y1="758.40" x2="47.00" y2="758.40" stroke="#2a2a2a" stroke-width="1"/>
<text transform="translate(43.00 762.02) scale(1 1.15)" font-size="8.8" text-anchor="end" fill="#1a1a1a">0</text>
<line x1="43.50" y1="719.76" x2="47.00" y2="719.76" stroke="#2a2a2a" stroke-width="1"/>
<text transform="translate(43.00 723.39) scale(1 1.15)" font-size="8.8" text-anchor="end" fill="#1a1a1a">50</text>
<line x1="43.50" y1="681.13" x2="47.00" y2="681.13" stroke="#2a2a2a" stroke-width="1"/>
<text transform="translate(43.00 684.75) scale(1 1.15)" font-size="8.8" text-anchor="end" fill="#1a1a1a">100</text>
<line x1="43.50" y1="642.50" x2="47.00" y2="642.50" stroke="#2a2a2a" stroke-width="1"/>
<text transform="translate(43.00 646.12) scale(1 1.15)" font-size="8.8" text-anchor="end" fill="#1a1a1a">150</text>
<line x1="47.00" y1="758.50" x2="47.00" y2="762.00" stroke="#2a2a2a" stroke-width="1"/>
<text transform="translate(47.00 771.22) scale(1 1.15)" font-size="8.8" text-anchor="middle" fill="#1a1a1a">0</text>
<line x1="66.81" y1="758.50" x2="66.81" y2="762.00" stroke="#2a2a2a" stroke-width="1"/>
<text transform="translate(66.81 771.22) scale(1 1.15)" font-size="8.8" text-anchor="middle" fill="#1a1a1a">40</text>
<line x1="86.62" y1="758.50" x2="86.62" y2="762.00" stroke="#2a2a2a" stroke-width="1"/>
<text transform="translate(86.62 771.22) scale(1 1.15)" font-size="8.8" text-anchor="middle" fill="#1a1a1a">80</text>
<line x1="106.44" y1="758.50" x2="106.44" y2="762.00" stroke="#2a2a2a" stroke-width="1"/>
<text transform="translate(106.44 771.22) scale(1 1.15)" font-size="8.8" text-anchor="middle" fill="#1a1a1a">120</text>
<line x1="126.25" y1="758.50" x2="126.25" y2="762.00" stroke="#2a2a2a" stroke-width="1"/>
<text transform="translate(126.25 771.22) scale(1 1.15)" font-size="8.8" text-anchor="middle" fill="#1a1a1a">160</text>
<line x1="146.06" y1="758.50" x2="146.06" y2="762.00" stroke="#2a2a2a" stroke-width="1"/>
<text transform="translate(146.06 771.22) scale(1 1.15)" font-size="8.8" text-anchor="middle" fill="#1a1a1a">200</text>
<line x1="165.87" y1="758.50" x2="165.87" y2="762.00" stroke="#2a2a2a" stroke-width="1"/>
<text transform="translate(165.87 771.22) scale(1 1.15)" font-size="8.8" text-anchor="middle" fill="#1a1a1a">240</text>
<line x1="185.68" y1="758.50" x2="185.68" y2="762.00" stroke="#2a2a2a" stroke-width="1"/>
<text transform="translate(185.68 771.22) scale(1 1.15)" font-size="8.8" text-anchor="middle" fill="#1a1a1a">280</text>
<line x1="205.50" y1="758.50" x2="205.50" y2="762.00" stroke="#2a2a2a" stroke-width="1"/>
<text transform="translate(205.50 771.22) scale(1 1.15)" font-size="8.8" text-anchor="middle" fill="#1a1a1a">320</text>
<text x="136.50" y="786.80" font-size="11.15" text-anchor="middle" fill="#1a1a1a">5-FU (ng/mL)</text>
<text x="18.00" y="700.30" font-size="11.15" text-anchor="middle" fill="#1a1a1a" transform="rotate(-90 18.0 700.3000000000001)">Cell viability (<tspan dx="0.9">%</tspan><tspan dx="0.9">)</tspan></text>
<text x="53.40" y="631.80" font-size="11.15" text-anchor="start" fill="#1a1a1a">HGC-27</text>
<polyline points="47.00,681.13 56.91,693.49 66.81,702.77 86.62,718.99 126.25,726.72 205.50,733.67" fill="none" stroke="#8ae8c0" stroke-width="1"/>
<line x1="47.00" y1="691.95" x2="47.00" y2="670.31" stroke="#8ae8c0" stroke-width="1"/>
<line x1="44.50" y1="691.95" x2="49.50" y2="691.95" stroke="#8ae8c0" stroke-width="1"/>
<line x1="44.50" y1="670.31" x2="49.50" y2="670.31" stroke="#8ae8c0" stroke-width="1"/>
<circle cx="47.00" cy="681.13" r="2.9" fill="#8ef0c4"/>
<line x1="56.91" y1="702.77" x2="56.91" y2="684.22" stroke="#8ae8c0" stroke-width="1"/>
<line x1="54.41" y1="702.77" x2="59.41" y2="702.77" stroke="#8ae8c0" stroke-width="1"/>
<line x1="54.41" y1="684.22" x2="59.41" y2="684.22" stroke="#8ae8c0" stroke-width="1"/>
<circle cx="56.91" cy="693.49" r="2.9" fill="#8ef0c4"/>
<line x1="66.81" y1="708.95" x2="66.81" y2="696.58" stroke="#8ae8c0" stroke-width="1"/>
<line x1="64.31" y1="708.95" x2="69.31" y2="708.95" stroke="#8ae8c0" stroke-width="1"/>
<line x1="64.31" y1="696.58" x2="69.31" y2="696.58" stroke="#8ae8c0" stroke-width="1"/>
<circle cx="66.81" cy="702.77" r="2.9" fill="#8ef0c4"/>
<line x1="86.62" y1="724.40" x2="86.62" y2="713.58" stroke="#8ae8c0" stroke-width="1"/>
<line x1="84.12" y1="724.40" x2="89.12" y2="724.40" stroke="#8ae8c0" stroke-width="1"/>
<line x1="84.12" y1="713.58" x2="89.12" y2="713.58" stroke="#8ae8c0" stroke-width="1"/>
<circle cx="86.62" cy="718.99" r="2.9" fill="#8ef0c4"/>
<line x1="126.25" y1="733.67" x2="126.25" y2="719.76" stroke="#8ae8c0" stroke-width="1"/>
<line x1="123.75" y1="733.67" x2="128.75" y2="733.67" stroke="#8ae8c0" stroke-width="1"/>
<line x1="123.75" y1="719.76" x2="128.75" y2="719.76" stroke="#8ae8c0" stroke-width="1"/>
<circle cx="126.25" cy="726.72" r="2.9" fill="#8ef0c4"/>
<line x1="205.50" y1="739.86" x2="205.50" y2="727.49" stroke="#8ae8c0" stroke-width="1"/>
<line x1="203.00" y1="739.86" x2="208.00" y2="739.86" stroke="#8ae8c0" stroke-width="1"/>
<line x1="203.00" y1="727.49" x2="208.00" y2="727.49" stroke="#8ae8c0" stroke-width="1"/>
<circle cx="205.50" cy="733.67" r="2.9" fill="#8ef0c4"/>
<polyline points="47.00,681.13 56.91,695.04 66.81,717.45 86.62,733.67 126.25,739.86 205.50,746.81" fill="none" stroke="#5a72f0" stroke-width="1"/>
<rect x="44.20" y="678.33" width="5.60" height="5.60" fill="#5672fe"/>
<line x1="56.91" y1="700.45" x2="56.91" y2="689.63" stroke="#5a72f0" stroke-width="1"/>
<line x1="54.41" y1="700.45" x2="59.41" y2="700.45" stroke="#5a72f0" stroke-width="1"/>
<line x1="54.41" y1="689.63" x2="59.41" y2="689.63" stroke="#5a72f0" stroke-width="1"/>
<rect x="54.11" y="692.24" width="5.60" height="5.60" fill="#5672fe"/>
<line x1="66.81" y1="722.08" x2="66.81" y2="712.81" stroke="#5a72f0" stroke-width="1"/>
<line x1="64.31" y1="722.08" x2="69.31" y2="722.08" stroke="#5a72f0" stroke-width="1"/>
<line x1="64.31" y1="712.81" x2="69.31" y2="712.81" stroke="#5a72f0" stroke-width="1"/>
<rect x="64.01" y="714.65" width="5.60" height="5.60" fill="#5672fe"/>
<line x1="86.62" y1="737.54" x2="86.62" y2="729.81" stroke="#5a72f0" stroke-width="1"/>
<line x1="84.12" y1="737.54" x2="89.12" y2="737.54" stroke="#5a72f0" stroke-width="1"/>
<line x1="84.12" y1="729.81" x2="89.12" y2="729.81" stroke="#5a72f0" stroke-width="1"/>
<rect x="83.82" y="730.87" width="5.60" height="5.60" fill="#5672fe"/>
<line x1="126.25" y1="743.72" x2="126.25" y2="735.99" stroke="#5a72f0" stroke-width="1"/>
<line x1="123.75" y1="743.72" x2="128.75" y2="743.72" stroke="#5a72f0" stroke-width="1"/>
<line x1="123.75" y1="735.99" x2="128.75" y2="735.99" stroke="#5a72f0" stroke-width="1"/>
<rect x="123.45" y="737.06" width="5.60" height="5.60" fill="#5672fe"/>
<line x1="205.50" y1="750.67" x2="205.50" y2="742.95" stroke="#5a72f0" stroke-width="1"/>
<line x1="203.00" y1="750.67" x2="208.00" y2="750.67" stroke="#5a72f0" stroke-width="1"/>
<line x1="203.00" y1="742.95" x2="208.00" y2="742.95" stroke="#5a72f0" stroke-width="1"/>
<rect x="202.70" y="744.01" width="5.60" height="5.60" fill="#5672fe"/>
<line x1="52.20" y1="643.60" x2="64.80" y2="643.60" stroke="#8ae8c0" stroke-width="1"/>
<circle cx="58.40" cy="643.60" r="2.9" fill="#8ef0c4"/>
<text x="71.50" y="647.00" font-size="9.5" text-anchor="start" fill="#1a1a1a">shNC</text>
<line x1="52.20" y1="657.70" x2="64.80" y2="657.70" stroke="#5a72f0" stroke-width="1"/>
<rect x="55.60" y="654.90" width="5.60" height="5.60" fill="#5672fe"/>
<text x="71.50" y="661.10" font-size="9.5" text-anchor="start" fill="#1a1a1a">shHDAC3</text>
<line x1="275.50" y1="457.53" x2="275.50" y2="575.00" stroke="#2a2a2a" stroke-width="1"/>
<line x1="275.50" y1="574.50" x2="449.40" y2="574.50" stroke="#2a2a2a" stroke-width="1"/>
<line x1="272.00" y1="573.80" x2="275.50" y2="573.80" stroke="#2a2a2a" stroke-width="1"/>
<text transform="translate(271.90 577.42) scale(1 1.15)" font-size="8.8" text-anchor="end" fill="#1a1a1a">0</text>
<line x1="272.00" y1="550.65" x2="275.50" y2="550.65" stroke="#2a2a2a" stroke-width="1"/>
<text transform="translate(271.90 554.27) scale(1 1.15)" font-size="8.8" text-anchor="end" fill="#1a1a1a">20</text>
<line x1="272.00" y1="527.49" x2="275.50" y2="527.49" stroke="#2a2a2a" stroke-width="1"/>
<text transform="translate(271.90 531.11) scale(1 1.15)" font-size="8.8" text-anchor="end" fill="#1a1a1a">40</text>
<line x1="272.00" y1="504.34" x2="275.50" y2="504.34" stroke="#2a2a2a" stroke-width="1"/>
<text transform="translate(271.90 507.96) scale(1 1.15)" font-size="8.8" text-anchor="end" fill="#1a1a1a">60</text>
<line x1="272.00" y1="481.18" x2="275.50" y2="481.18" stroke="#2a2a2a" stroke-width="1"/>
<text transform="translate(271.90 484.81) scale(1 1.15)" font-size="8.8" text-anchor="end" fill="#1a1a1a">80</text>
<line x1="272.00" y1="458.03" x2="275.50" y2="458.03" stroke="#2a2a2a" stroke-width="1"/>
<text transform="translate(271.90 461.65) scale(1 1.15)" font-size="8.8" text-anchor="end" fill="#1a1a1a">100</text>
<line x1="307.20" y1="574.50" x2="307.20" y2="578.50" stroke="#2a2a2a" stroke-width="1"/>
<text x="312.80" y="583.40" font-size="9.4" text-anchor="end" fill="#1a1a1a" transform="rotate(-45 312.8 583.4)">1.301</text>
<line x1="338.80" y1="574.50" x2="338.80" y2="578.50" stroke="#2a2a2a" stroke-width="1"/>
<text x="344.40" y="583.40" font-size="9.4" text-anchor="end" fill="#1a1a1a" transform="rotate(-45 344.40000000000003 583.4)">1.602</text>
<line x1="370.50" y1="574.50" x2="370.50" y2="578.50" stroke="#2a2a2a" stroke-width="1"/>
<text x="376.10" y="583.40" font-size="9.4" text-anchor="end" fill="#1a1a1a" transform="rotate(-45 376.1 583.4)">1.903</text>
<line x1="402.00" y1="574.50" x2="402.00" y2="578.50" stroke="#2a2a2a" stroke-width="1"/>
<text x="407.60" y="583.40" font-size="9.4" text-anchor="end" fill="#1a1a1a" transform="rotate(-45 407.6 583.4)">2.204</text>
<line x1="433.40" y1="574.50" x2="433.40" y2="578.50" stroke="#2a2a2a" stroke-width="1"/>
<text x="439.00" y="583.40" font-size="9.4" text-anchor="end" fill="#1a1a1a" transform="rotate(-45 439.0 583.4)">2.505</text>
<text x="360.80" y="613.00" font-size="11.3" text-anchor="middle" fill="#1a1a1a">Log (5-FU concentration)</text>
<text x="245.80" y="515.70" font-size="11.15" text-anchor="middle" fill="#1a1a1a" transform="rotate(-90 245.8 515.7)">Cell viability (<tspan dx="0.9">%</tspan><tspan dx="0.9">)</tspan></text>
<text x="272.20" y="454.20" font-size="11.15" text-anchor="start" fill="#1a1a1a">MKN-45</text>
<polyline points="307.20,478.87 338.80,492.76 370.50,513.60 402.00,528.65 433.40,535.60" fill="none" stroke="#8ae8c0" stroke-width="1"/>
<line x1="307.20" y1="485.81" x2="307.20" y2="471.92" stroke="#8ae8c0" stroke-width="1"/>
<line x1="304.70" y1="485.81" x2="309.70" y2="485.81" stroke="#8ae8c0" stroke-width="1"/>
<line x1="304.70" y1="471.92" x2="309.70" y2="471.92" stroke="#8ae8c0" stroke-width="1"/>
<circle cx="307.20" cy="478.87" r="2.9" fill="#8ef0c4"/>
<line x1="338.80" y1="498.55" x2="338.80" y2="486.97" stroke="#8ae8c0" stroke-width="1"/>
<line x1="336.30" y1="498.55" x2="341.30" y2="498.55" stroke="#8ae8c0" stroke-width="1"/>
<line x1="336.30" y1="486.97" x2="341.30" y2="486.97" stroke="#8ae8c0" stroke-width="1"/>
<circle cx="338.80" cy="492.76" r="2.9" fill="#8ef0c4"/>
<line x1="370.50" y1="521.70" x2="370.50" y2="505.50" stroke="#8ae8c0" stroke-width="1"/>
<line x1="368.00" y1="521.70" x2="373.00" y2="521.70" stroke="#8ae8c0" stroke-width="1"/>
<line x1="368.00" y1="505.50" x2="373.00" y2="505.50" stroke="#8ae8c0" stroke-width="1"/>
<circle cx="370.50" cy="513.60" r="2.9" fill="#8ef0c4"/>
<line x1="402.00" y1="535.60" x2="402.00" y2="521.70" stroke="#8ae8c0" stroke-width="1"/>
<line x1="399.50" y1="535.60" x2="404.50" y2="535.60" stroke="#8ae8c0" stroke-width="1"/>
<line x1="399.50" y1="521.70" x2="404.50" y2="521.70" stroke="#8ae8c0" stroke-width="1"/>
<circle cx="402.00" cy="528.65" r="2.9" fill="#8ef0c4"/>
<line x1="433.40" y1="542.54" x2="433.40" y2="528.65" stroke="#8ae8c0" stroke-width="1"/>
<line x1="430.90" y1="542.54" x2="435.90" y2="542.54" stroke="#8ae8c0" stroke-width="1"/>
<line x1="430.90" y1="528.65" x2="435.90" y2="528.65" stroke="#8ae8c0" stroke-width="1"/>
<circle cx="433.40" cy="535.60" r="2.9" fill="#8ef0c4"/>
<polyline points="307.20,490.45 338.80,521.70 370.50,539.07 402.00,548.33 433.40,557.59" fill="none" stroke="#5a72f0" stroke-width="1"/>
<line x1="307.20" y1="502.02" x2="307.20" y2="478.87" stroke="#5a72f0" stroke-width="1"/>
<line x1="304.70" y1="502.02" x2="309.70" y2="502.02" stroke="#5a72f0" stroke-width="1"/>
<line x1="304.70" y1="478.87" x2="309.70" y2="478.87" stroke="#5a72f0" stroke-width="1"/>
<rect x="304.40" y="487.65" width="5.60" height="5.60" fill="#5672fe"/>
<line x1="338.80" y1="530.97" x2="338.80" y2="512.44" stroke="#5a72f0" stroke-width="1"/>
<line x1="336.30" y1="530.97" x2="341.30" y2="530.97" stroke="#5a72f0" stroke-width="1"/>
<line x1="336.30" y1="512.44" x2="341.30" y2="512.44" stroke="#5a72f0" stroke-width="1"/>
<rect x="336.00" y="518.90" width="5.60" height="5.60" fill="#5672fe"/>
<line x1="370.50" y1="543.70" x2="370.50" y2="534.44" stroke="#5a72f0" stroke-width="1"/>
<line x1="368.00" y1="543.70" x2="373.00" y2="543.70" stroke="#5a72f0" stroke-width="1"/>
<line x1="368.00" y1="534.44" x2="373.00" y2="534.44" stroke="#5a72f0" stroke-width="1"/>
<rect x="367.70" y="536.27" width="5.60" height="5.60" fill="#5672fe"/>
<line x1="402.00" y1="555.28" x2="402.00" y2="541.38" stroke="#5a72f0" stroke-width="1"/>
<line x1="399.50" y1="555.28" x2="404.50" y2="555.28" stroke="#5a72f0" stroke-width="1"/>
<line x1="399.50" y1="541.38" x2="404.50" y2="541.38" stroke="#5a72f0" stroke-width="1"/>
<rect x="399.20" y="545.53" width="5.60" height="5.60" fill="#5672fe"/>
<line x1="433.40" y1="562.22" x2="433.40" y2="552.96" stroke="#5a72f0" stroke-width="1"/>
<line x1="430.90" y1="562.22" x2="435.90" y2="562.22" stroke="#5a72f0" stroke-width="1"/>
<line x1="430.90" y1="552.96" x2="435.90" y2="552.96" stroke="#5a72f0" stroke-width="1"/>
<rect x="430.60" y="554.79" width="5.60" height="5.60" fill="#5672fe"/>
<line x1="278.60" y1="541.90" x2="291.20" y2="541.90" stroke="#8ae8c0" stroke-width="1"/>
<circle cx="284.80" cy="541.90" r="2.9" fill="#8ef0c4"/>
<text x="298.20" y="545.30" font-size="9.5" text-anchor="start" fill="#1a1a1a">shNC</text>
<line x1="278.60" y1="555.00" x2="291.20" y2="555.00" stroke="#5a72f0" stroke-width="1"/>
<rect x="282.00" y="552.20" width="5.60" height="5.60" fill="#5672fe"/>
<text x="298.20" y="558.40" font-size="9.5" text-anchor="start" fill="#1a1a1a">shHDAC3</text>
<line x1="278.00" y1="642.00" x2="278.00" y2="759.00" stroke="#2a2a2a" stroke-width="1"/>
<line x1="278.00" y1="758.50" x2="451.50" y2="758.50" stroke="#2a2a2a" stroke-width="1"/>
<line x1="274.50" y1="758.40" x2="278.00" y2="758.40" stroke="#2a2a2a" stroke-width="1"/>
<text transform="translate(274.40 762.02) scale(1 1.15)" font-size="8.8" text-anchor="end" fill="#1a1a1a">0</text>
<line x1="274.50" y1="719.76" x2="278.00" y2="719.76" stroke="#2a2a2a" stroke-width="1"/>
<text transform="translate(274.40 723.39) scale(1 1.15)" font-size="8.8" text-anchor="end" fill="#1a1a1a">50</text>
<line x1="274.50" y1="681.13" x2="278.00" y2="681.13" stroke="#2a2a2a" stroke-width="1"/>
<text transform="translate(274.40 684.75) scale(1 1.15)" font-size="8.8" text-anchor="end" fill="#1a1a1a">100</text>
<line x1="274.50" y1="642.50" x2="278.00" y2="642.50" stroke="#2a2a2a" stroke-width="1"/>
<text transform="translate(274.40 646.12) scale(1 1.15)" font-size="8.8" text-anchor="end" fill="#1a1a1a">150</text>
<line x1="309.60" y1="758.50" x2="309.60" y2="762.50" stroke="#2a2a2a" stroke-width="1"/>
<text x="315.20" y="768.00" font-size="9.4" text-anchor="end" fill="#1a1a1a" transform="rotate(-45 315.20000000000005 768.0)">1.301</text>
<line x1="340.80" y1="758.50" x2="340.80" y2="762.50" stroke="#2a2a2a" stroke-width="1"/>
<text x="346.40" y="768.00" font-size="9.4" text-anchor="end" fill="#1a1a1a" transform="rotate(-45 346.40000000000003 768.0)">1.602</text>
<line x1="372.10" y1="758.50" x2="372.10" y2="762.50" stroke="#2a2a2a" stroke-width="1"/>
<text x="377.70" y="768.00" font-size="9.4" text-anchor="end" fill="#1a1a1a" transform="rotate(-45 377.70000000000005 768.0)">1.903</text>
<line x1="404.00" y1="758.50" x2="404.00" y2="762.50" stroke="#2a2a2a" stroke-width="1"/>
<text x="409.60" y="768.00" font-size="9.4" text-anchor="end" fill="#1a1a1a" transform="rotate(-45 409.6 768.0)">2.204</text>
<line x1="435.50" y1="758.50" x2="435.50" y2="762.50" stroke="#2a2a2a" stroke-width="1"/>
<text x="441.10" y="768.00" font-size="9.4" text-anchor="end" fill="#1a1a1a" transform="rotate(-45 441.1 768.0)">2.505</text>
<text x="360.80" y="798.90" font-size="11.3" text-anchor="middle" fill="#1a1a1a">Log (5-FU concentration)</text>
<text x="245.80" y="700.30" font-size="11.15" text-anchor="middle" fill="#1a1a1a" transform="rotate(-90 245.8 700.3000000000001)">Cell viability (<tspan dx="0.9">%</tspan><tspan dx="0.9">)</tspan></text>
<text x="272.20" y="631.80" font-size="11.15" text-anchor="start" fill="#1a1a1a">HGC-27</text>
<polyline points="309.60,692.72 340.80,701.99 372.10,718.99 404.00,726.72 435.50,733.67" fill="none" stroke="#8ae8c0" stroke-width="1"/>
<line x1="309.60" y1="701.22" x2="309.60" y2="684.22" stroke="#8ae8c0" stroke-width="1"/>
<line x1="307.10" y1="701.22" x2="312.10" y2="701.22" stroke="#8ae8c0" stroke-width="1"/>
<line x1="307.10" y1="684.22" x2="312.10" y2="684.22" stroke="#8ae8c0" stroke-width="1"/>
<circle cx="309.60" cy="692.72" r="2.9" fill="#8ef0c4"/>
<line x1="340.80" y1="708.17" x2="340.80" y2="695.81" stroke="#8ae8c0" stroke-width="1"/>
<line x1="338.30" y1="708.17" x2="343.30" y2="708.17" stroke="#8ae8c0" stroke-width="1"/>
<line x1="338.30" y1="695.81" x2="343.30" y2="695.81" stroke="#8ae8c0" stroke-width="1"/>
<circle cx="340.80" cy="701.99" r="2.9" fill="#8ef0c4"/>
<line x1="372.10" y1="724.40" x2="372.10" y2="713.58" stroke="#8ae8c0" stroke-width="1"/>
<line x1="369.60" y1="724.40" x2="374.60" y2="724.40" stroke="#8ae8c0" stroke-width="1"/>
<line x1="369.60" y1="713.58" x2="374.60" y2="713.58" stroke="#8ae8c0" stroke-width="1"/>
<circle cx="372.10" cy="718.99" r="2.9" fill="#8ef0c4"/>
<line x1="404.00" y1="733.67" x2="404.00" y2="719.76" stroke="#8ae8c0" stroke-width="1"/>
<line x1="401.50" y1="733.67" x2="406.50" y2="733.67" stroke="#8ae8c0" stroke-width="1"/>
<line x1="401.50" y1="719.76" x2="406.50" y2="719.76" stroke="#8ae8c0" stroke-width="1"/>
<circle cx="404.00" cy="726.72" r="2.9" fill="#8ef0c4"/>
<line x1="435.50" y1="739.86" x2="435.50" y2="727.49" stroke="#8ae8c0" stroke-width="1"/>
<line x1="433.00" y1="739.86" x2="438.00" y2="739.86" stroke="#8ae8c0" stroke-width="1"/>
<line x1="433.00" y1="727.49" x2="438.00" y2="727.49" stroke="#8ae8c0" stroke-width="1"/>
<circle cx="435.50" cy="733.67" r="2.9" fill="#8ef0c4"/>
<polyline points="309.60,695.04 340.80,717.45 372.10,733.67 404.00,739.86 435.50,746.81" fill="none" stroke="#5a72f0" stroke-width="1"/>
<line x1="309.60" y1="700.45" x2="309.60" y2="689.63" stroke="#5a72f0" stroke-width="1"/>
<line x1="307.10" y1="700.45" x2="312.10" y2="700.45" stroke="#5a72f0" stroke-width="1"/>
<line x1="307.10" y1="689.63" x2="312.10" y2="689.63" stroke="#5a72f0" stroke-width="1"/>
<rect x="306.80" y="692.24" width="5.60" height="5.60" fill="#5672fe"/>
<line x1="340.80" y1="722.08" x2="340.80" y2="712.81" stroke="#5a72f0" stroke-width="1"/>
<line x1="338.30" y1="722.08" x2="343.30" y2="722.08" stroke="#5a72f0" stroke-width="1"/>
<line x1="338.30" y1="712.81" x2="343.30" y2="712.81" stroke="#5a72f0" stroke-width="1"/>
<rect x="338.00" y="714.65" width="5.60" height="5.60" fill="#5672fe"/>
<line x1="372.10" y1="737.54" x2="372.10" y2="729.81" stroke="#5a72f0" stroke-width="1"/>
<line x1="369.60" y1="737.54" x2="374.60" y2="737.54" stroke="#5a72f0" stroke-width="1"/>
<line x1="369.60" y1="729.81" x2="374.60" y2="729.81" stroke="#5a72f0" stroke-width="1"/>
<rect x="369.30" y="730.87" width="5.60" height="5.60" fill="#5672fe"/>
<line x1="404.00" y1="743.72" x2="404.00" y2="735.99" stroke="#5a72f0" stroke-width="1"/>
<line x1="401.50" y1="743.72" x2="406.50" y2="743.72" stroke="#5a72f0" stroke-width="1"/>
<line x1="401.50" y1="735.99" x2="406.50" y2="735.99" stroke="#5a72f0" stroke-width="1"/>
<rect x="401.20" y="737.06" width="5.60" height="5.60" fill="#5672fe"/>
<line x1="435.50" y1="750.67" x2="435.50" y2="742.95" stroke="#5a72f0" stroke-width="1"/>
<line x1="433.00" y1="750.67" x2="438.00" y2="750.67" stroke="#5a72f0" stroke-width="1"/>
<line x1="433.00" y1="742.95" x2="438.00" y2="742.95" stroke="#5a72f0" stroke-width="1"/>
<rect x="432.70" y="744.01" width="5.60" height="5.60" fill="#5672fe"/>
<line x1="278.60" y1="732.60" x2="291.20" y2="732.60" stroke="#8ae8c0" stroke-width="1"/>
<circle cx="284.80" cy="732.60" r="2.9" fill="#8ef0c4"/>
<text x="298.20" y="736.00" font-size="9.5" text-anchor="start" fill="#1a1a1a">shNC</text>
<line x1="278.60" y1="746.00" x2="291.20" y2="746.00" stroke="#5a72f0" stroke-width="1"/>
<rect x="282.00" y="743.20" width="5.60" height="5.60" fill="#5672fe"/>
<text x="298.20" y="749.40" font-size="9.5" text-anchor="start" fill="#1a1a1a">shHDAC3</text>
<line x1="507.00" y1="458.00" x2="507.00" y2="575.00" stroke="#2a2a2a" stroke-width="1"/>
<line x1="507.00" y1="574.50" x2="678.30" y2="574.50" stroke="#2a2a2a" stroke-width="1"/>
<line x1="503.50" y1="574.40" x2="507.00" y2="574.40" stroke="#2a2a2a" stroke-width="1"/>
<text transform="translate(503.00 578.02) scale(1 1.15)" font-size="8.8" text-anchor="end" fill="#1a1a1a">0</text>
<line x1="503.50" y1="535.76" x2="507.00" y2="535.76" stroke="#2a2a2a" stroke-width="1"/>
<text transform="translate(503.00 539.39) scale(1 1.15)" font-size="8.8" text-anchor="end" fill="#1a1a1a">50</text>
<line x1="503.50" y1="497.13" x2="507.00" y2="497.13" stroke="#2a2a2a" stroke-width="1"/>
<text transform="translate(503.00 500.75) scale(1 1.15)" font-size="8.8" text-anchor="end" fill="#1a1a1a">100</text>
<line x1="503.50" y1="458.50" x2="507.00" y2="458.50" stroke="#2a2a2a" stroke-width="1"/>
<text transform="translate(503.00 462.12) scale(1 1.15)" font-size="8.8" text-anchor="end" fill="#1a1a1a">150</text>
<line x1="550.75" y1="494.50" x2="550.75" y2="479.05" stroke="#222" stroke-width="0.9"/>
<line x1="535.15" y1="479.05" x2="566.35" y2="479.05" stroke="#222" stroke-width="0.9"/>
<rect x="521.20" y="494.50" width="59.10" height="80.00" fill="#8ef0c4" stroke="#1a1a1a" stroke-width="0.8"/>
<line x1="550.75" y1="574.50" x2="550.75" y2="578.50" stroke="#2a2a2a" stroke-width="1"/>
<text x="550.75" y="590.60" font-size="11.15" text-anchor="middle" fill="#1a1a1a">shNC</text>
<line x1="639.05" y1="540.71" x2="639.05" y2="532.98" stroke="#222" stroke-width="0.9"/>
<line x1="623.45" y1="532.98" x2="654.65" y2="532.98" stroke="#222" stroke-width="0.9"/>
<rect x="609.50" y="540.71" width="59.10" height="33.79" fill="#5672fe" stroke="#1a1a1a" stroke-width="0.8"/>
<line x1="639.05" y1="574.50" x2="639.05" y2="578.50" stroke="#2a2a2a" stroke-width="1"/>
<text x="639.05" y="590.60" font-size="11.15" text-anchor="middle" fill="#1a1a1a">shHDAC3</text>
<text x="639.00" y="532.08" font-size="9" text-anchor="middle" fill="#1a1a1a">**</text>
<text x="510.40" y="454.20" font-size="11.15" text-anchor="start" fill="#1a1a1a">MKN-45</text>
<text x="474.40" y="514.00" font-size="11.15" text-anchor="middle" fill="#1a1a1a" transform="rotate(-90 474.4 514)">5-FU IC50 (ng/mL)</text>
<line x1="507.00" y1="642.39" x2="507.00" y2="759.50" stroke="#2a2a2a" stroke-width="1"/>
<line x1="507.00" y1="759.00" x2="678.30" y2="759.00" stroke="#2a2a2a" stroke-width="1"/>
<line x1="503.50" y1="758.80" x2="507.00" y2="758.80" stroke="#2a2a2a" stroke-width="1"/>
<text transform="translate(503.00 762.42) scale(1 1.15)" font-size="8.8" text-anchor="end" fill="#1a1a1a">0</text>
<line x1="503.50" y1="720.16" x2="507.00" y2="720.16" stroke="#2a2a2a" stroke-width="1"/>
<text transform="translate(503.00 723.79) scale(1 1.15)" font-size="8.8" text-anchor="end" fill="#1a1a1a">50</text>
<line x1="503.50" y1="681.53" x2="507.00" y2="681.53" stroke="#2a2a2a" stroke-width="1"/>
<text transform="translate(503.00 685.15) scale(1 1.15)" font-size="8.8" text-anchor="end" fill="#1a1a1a">100</text>
<line x1="503.50" y1="642.89" x2="507.00" y2="642.89" stroke="#2a2a2a" stroke-width="1"/>
<text transform="translate(503.00 646.52) scale(1 1.15)" font-size="8.8" text-anchor="end" fill="#1a1a1a">150</text>
<line x1="550.75" y1="672.26" x2="550.75" y2="656.03" stroke="#222" stroke-width="0.9"/>
<line x1="535.15" y1="656.03" x2="566.35" y2="656.03" stroke="#222" stroke-width="0.9"/>
<rect x="521.20" y="672.26" width="59.10" height="86.74" fill="#8ef0c4" stroke="#1a1a1a" stroke-width="0.8"/>
<line x1="550.75" y1="759.00" x2="550.75" y2="763.00" stroke="#2a2a2a" stroke-width="1"/>
<text x="550.75" y="775.00" font-size="11.15" text-anchor="middle" fill="#1a1a1a">shNC</text>
<line x1="639.05" y1="719.39" x2="639.05" y2="711.67" stroke="#222" stroke-width="0.9"/>
<line x1="623.45" y1="711.67" x2="654.65" y2="711.67" stroke="#222" stroke-width="0.9"/>
<rect x="609.50" y="719.39" width="59.10" height="39.61" fill="#5672fe" stroke="#1a1a1a" stroke-width="0.8"/>
<line x1="639.05" y1="759.00" x2="639.05" y2="763.00" stroke="#2a2a2a" stroke-width="1"/>
<text x="639.05" y="775.00" font-size="11.15" text-anchor="middle" fill="#1a1a1a">shHDAC3</text>
<text x="639.00" y="712.08" font-size="9" text-anchor="middle" fill="#1a1a1a">**</text>
<text x="510.40" y="631.80" font-size="11.15" text-anchor="start" fill="#1a1a1a">HGC-27</text>
<text x="474.40" y="703.20" font-size="11.15" text-anchor="middle" fill="#1a1a1a" transform="rotate(-90 474.4 703.2)">5-FU IC50 (ng/mL)</text>
<defs><filter id="pb" x="-10%" y="-10%" width="120%" height="120%"><feGaussianBlur stdDeviation="0.45"/></filter><filter id="pb2"><feGaussianBlur stdDeviation="1.8"/></filter></defs>
<clipPath id="tc1"><rect x="19.30" y="239.00" width="85.90" height="84.80"/></clipPath>
<clipPath id="pc1"><circle cx="61.70" cy="282.00" r="37.00"/></clipPath>
<g clip-path="url(#tc1)">
<rect x="19.30" y="239.00" width="85.90" height="84.80" fill="#d3d3e3"/>
<circle cx="61.70" cy="282.00" r="40.70" fill="none" stroke="#b9b7cf" stroke-width="0.9"/>
<circle cx="61.70" cy="282.00" r="40.20" fill="#ebebf3"/>
<circle cx="61.70" cy="282.00" r="37.40" fill="#c9c7df" stroke="#b3b1cc" stroke-width="0.8"/>
<g clip-path="url(#pc1)" filter="url(#pb2)" opacity="0.9">
<rect x="21.90" y="242.20" width="3.81" height="79.60" fill="#cecbe2"/>
<rect x="25.71" y="242.20" width="4.53" height="79.60" fill="#c2bfdb"/>
<rect x="30.24" y="242.20" width="7.57" height="79.60" fill="#c2bfdb"/>
<rect x="37.80" y="242.20" width="6.91" height="79.60" fill="#bcb9d6"/>
<rect x="44.71" y="242.20" width="3.56" height="79.60" fill="#cecbe2"/>
<rect x="48.28" y="242.20" width="8.36" height="79.60" fill="#c2bfdb"/>
<rect x="56.63" y="242.20" width="5.60" height="79.60" fill="#cecbe2"/>
<rect x="62.23" y="242.20" width="7.17" height="79.60" fill="#c8c5de"/>
<rect x="69.41" y="242.20" width="7.33" height="79.60" fill="#bcb9d6"/>
<rect x="76.74" y="242.20" width="6.55" height="79.60" fill="#cecbe2"/>
<rect x="83.28" y="242.20" width="8.41" height="79.60" fill="#cecbe2"/>
<rect x="91.69" y="242.20" width="3.13" height="79.60" fill="#cecbe2"/>
<rect x="94.83" y="242.20" width="8.63" height="79.60" fill="#c2bfdb"/>
</g>
<g filter="url(#pb)">
<circle cx="57.42" cy="245.94" r="1.69" fill="#5a1ef2"/>
<circle cx="50.19" cy="249.48" r="1.69" fill="#5a1ef2"/>
<circle cx="61.36" cy="250.80" r="1.12" fill="#5a1ef2"/>
<circle cx="76.48" cy="248.56" r="1.12" fill="#5a1ef2"/>
<circle cx="44.28" cy="250.80" r="0.84" fill="#5a1ef2"/>
<circle cx="56.11" cy="252.77" r="1.69" fill="#5a1ef2"/>
<circle cx="52.82" cy="255.40" r="1.69" fill="#5a1ef2"/>
<circle cx="62.02" cy="256.05" r="1.69" fill="#5a1ef2"/>
<circle cx="67.28" cy="255.40" r="0.84" fill="#5a1ef2"/>
<circle cx="75.82" cy="253.43" r="1.97" fill="#5a1ef2"/>
<circle cx="79.76" cy="255.40" r="1.41" fill="#5a1ef2"/>
<circle cx="85.02" cy="254.08" r="1.12" fill="#5a1ef2"/>
<circle cx="35.74" cy="255.40" r="1.41" fill="#5a1ef2"/>
<circle cx="49.54" cy="258.02" r="1.41" fill="#5a1ef2"/>
<circle cx="70.56" cy="258.68" r="2.11" fill="#5a1ef2"/>
<circle cx="75.16" cy="256.71" r="1.69" fill="#5a1ef2"/>
<circle cx="37.05" cy="261.31" r="1.97" fill="#5a1ef2"/>
<circle cx="56.11" cy="261.31" r="1.41" fill="#5a1ef2"/>
<circle cx="63.34" cy="260.65" r="1.69" fill="#5a1ef2"/>
<circle cx="78.45" cy="261.31" r="1.97" fill="#5a1ef2"/>
<circle cx="81.07" cy="261.97" r="1.69" fill="#5a1ef2"/>
<circle cx="46.25" cy="263.94" r="1.69" fill="#5a1ef2"/>
<circle cx="50.19" cy="261.97" r="0.84" fill="#5a1ef2"/>
<circle cx="71.88" cy="263.94" r="1.69" fill="#5a1ef2"/>
<circle cx="88.96" cy="263.94" r="1.69" fill="#5a1ef2"/>
<circle cx="51.51" cy="265.91" r="1.69" fill="#5a1ef2"/>
<circle cx="55.45" cy="266.57" r="1.41" fill="#5a1ef2"/>
<circle cx="62.68" cy="264.60" r="2.25" fill="#5a1ef2"/>
<circle cx="64.65" cy="266.57" r="1.69" fill="#5a1ef2"/>
<circle cx="81.73" cy="268.27" r="1.69" fill="#5a1ef2"/>
<circle cx="95.53" cy="268.54" r="1.69" fill="#5a1ef2"/>
<circle cx="90.93" cy="268.80" r="1.12" fill="#5a1ef2"/>
<circle cx="31.80" cy="271.43" r="1.41" fill="#5a1ef2"/>
<circle cx="35.74" cy="273.14" r="1.69" fill="#5a1ef2"/>
<circle cx="39.68" cy="273.14" r="1.69" fill="#5a1ef2"/>
<circle cx="49.54" cy="271.82" r="2.25" fill="#5a1ef2"/>
<circle cx="56.11" cy="269.85" r="0.84" fill="#5a1ef2"/>
<circle cx="63.34" cy="270.51" r="1.69" fill="#5a1ef2"/>
<circle cx="68.59" cy="271.82" r="1.41" fill="#5a1ef2"/>
<circle cx="77.13" cy="272.48" r="1.12" fill="#5a1ef2"/>
<circle cx="41.00" cy="276.42" r="1.69" fill="#5a1ef2"/>
<circle cx="48.22" cy="276.42" r="1.69" fill="#5a1ef2"/>
<circle cx="56.11" cy="274.45" r="1.12" fill="#5a1ef2"/>
<circle cx="62.02" cy="275.11" r="2.53" fill="#5a1ef2"/>
<circle cx="60.05" cy="277.74" r="1.97" fill="#5a1ef2"/>
<circle cx="67.93" cy="279.05" r="2.25" fill="#5a1ef2"/>
<circle cx="75.82" cy="279.31" r="1.41" fill="#5a1ef2"/>
<circle cx="89.62" cy="276.42" r="1.69" fill="#5a1ef2"/>
<circle cx="24.57" cy="277.74" r="1.12" fill="#5a1ef2"/>
<circle cx="36.40" cy="280.36" r="1.12" fill="#5a1ef2"/>
<circle cx="41.65" cy="280.36" r="1.12" fill="#5a1ef2"/>
<circle cx="52.17" cy="282.34" r="1.69" fill="#5a1ef2"/>
<circle cx="55.45" cy="279.05" r="1.41" fill="#5a1ef2"/>
<circle cx="57.42" cy="282.99" r="1.12" fill="#5a1ef2"/>
<circle cx="69.25" cy="282.34" r="1.41" fill="#5a1ef2"/>
<circle cx="37.71" cy="283.65" r="1.41" fill="#5a1ef2"/>
<circle cx="46.25" cy="284.96" r="1.41" fill="#5a1ef2"/>
<circle cx="50.19" cy="285.62" r="1.69" fill="#5a1ef2"/>
<circle cx="54.79" cy="284.31" r="0.84" fill="#5a1ef2"/>
<circle cx="60.71" cy="285.36" r="1.41" fill="#5a1ef2"/>
<circle cx="68.59" cy="286.93" r="1.97" fill="#5a1ef2"/>
<circle cx="71.22" cy="288.25" r="1.69" fill="#5a1ef2"/>
<circle cx="73.85" cy="285.62" r="1.41" fill="#5a1ef2"/>
<circle cx="92.24" cy="282.99" r="1.41" fill="#5a1ef2"/>
<circle cx="96.19" cy="286.28" r="2.25" fill="#5a1ef2"/>
<circle cx="27.20" cy="286.28" r="1.69" fill="#5a1ef2"/>
<circle cx="62.02" cy="288.51" r="1.12" fill="#5a1ef2"/>
<circle cx="37.05" cy="290.88" r="1.41" fill="#5a1ef2"/>
<circle cx="49.54" cy="295.48" r="1.41" fill="#5a1ef2"/>
<circle cx="56.76" cy="293.50" r="1.12" fill="#5a1ef2"/>
<circle cx="53.48" cy="294.82" r="0.70" fill="#5a1ef2"/>
<circle cx="66.62" cy="295.48" r="1.12" fill="#5a1ef2"/>
<circle cx="71.22" cy="296.79" r="1.12" fill="#5a1ef2"/>
<circle cx="69.25" cy="299.42" r="1.69" fill="#5a1ef2"/>
<circle cx="31.80" cy="297.71" r="0.84" fill="#5a1ef2"/>
<circle cx="35.74" cy="298.10" r="1.12" fill="#5a1ef2"/>
<circle cx="37.05" cy="302.05" r="1.41" fill="#5a1ef2"/>
<circle cx="79.76" cy="301.39" r="1.12" fill="#5a1ef2"/>
<circle cx="81.07" cy="305.33" r="1.69" fill="#5a1ef2"/>
<circle cx="85.02" cy="304.02" r="1.41" fill="#5a1ef2"/>
<circle cx="90.93" cy="304.02" r="1.41" fill="#5a1ef2"/>
<circle cx="37.05" cy="305.99" r="1.69" fill="#5a1ef2"/>
<circle cx="42.31" cy="307.30" r="1.41" fill="#5a1ef2"/>
<circle cx="52.82" cy="305.33" r="1.41" fill="#5a1ef2"/>
<circle cx="56.76" cy="307.70" r="1.97" fill="#5a1ef2"/>
<circle cx="80.42" cy="307.96" r="1.69" fill="#5a1ef2"/>
<circle cx="86.33" cy="309.93" r="1.12" fill="#5a1ef2"/>
<circle cx="41.65" cy="312.95" r="1.69" fill="#5a1ef2"/>
<circle cx="73.85" cy="312.16" r="1.69" fill="#5a1ef2"/>
<circle cx="50.19" cy="316.50" r="1.69" fill="#5a1ef2"/>
<circle cx="62.68" cy="316.50" r="1.41" fill="#5a1ef2"/>
<circle cx="67.28" cy="317.81" r="1.69" fill="#5a1ef2"/>
<circle cx="71.88" cy="317.42" r="1.12" fill="#5a1ef2"/>
</g></g>
<clipPath id="tc2"><rect x="106.80" y="239.00" width="85.20" height="84.80"/></clipPath>
<clipPath id="pc2"><circle cx="150.20" cy="280.90" r="36.80"/></clipPath>
<g clip-path="url(#tc2)">
<rect x="106.80" y="239.00" width="85.20" height="84.80" fill="#d3d3e3"/>
<circle cx="150.20" cy="280.90" r="40.50" fill="none" stroke="#b9b7cf" stroke-width="0.9"/>
<circle cx="150.20" cy="280.90" r="40.00" fill="#ebebf3"/>
<circle cx="150.20" cy="280.90" r="37.20" fill="#c9c7df" stroke="#b3b1cc" stroke-width="0.8"/>
<g clip-path="url(#pc2)" filter="url(#pb2)" opacity="0.9">
<rect x="110.60" y="241.30" width="8.74" height="79.20" fill="#cecbe2"/>
<rect x="119.34" y="241.30" width="3.55" height="79.20" fill="#c8c5de"/>
<rect x="122.89" y="241.30" width="8.01" height="79.20" fill="#c8c5de"/>
<rect x="130.90" y="241.30" width="4.51" height="79.20" fill="#bcb9d6"/>
<rect x="135.41" y="241.30" width="6.64" height="79.20" fill="#bcb9d6"/>
<rect x="142.05" y="241.30" width="9.00" height="79.20" fill="#c2bfdb"/>
<rect x="151.05" y="241.30" width="7.82" height="79.20" fill="#c8c5de"/>
<rect x="158.87" y="241.30" width="6.27" height="79.20" fill="#c2bfdb"/>
<rect x="165.13" y="241.30" width="6.01" height="79.20" fill="#cecbe2"/>
<rect x="171.15" y="241.30" width="8.23" height="79.20" fill="#c8c5de"/>
<rect x="179.37" y="241.30" width="5.79" height="79.20" fill="#c8c5de"/>
<rect x="185.16" y="241.30" width="8.45" height="79.20" fill="#c2bfdb"/>
</g>
<g filter="url(#pb)">
<circle cx="139.22" cy="246.46" r="1.41" fill="#5a1ef2"/>
<circle cx="132.25" cy="250.14" r="1.41" fill="#5a1ef2"/>
<circle cx="175.62" cy="257.76" r="1.69" fill="#5a1ef2"/>
<circle cx="168.13" cy="262.23" r="1.83" fill="#5a1ef2"/>
<circle cx="164.71" cy="265.65" r="1.69" fill="#5a1ef2"/>
<circle cx="156.17" cy="265.38" r="1.69" fill="#5a1ef2"/>
<circle cx="129.36" cy="264.33" r="1.69" fill="#5a1ef2"/>
<circle cx="134.22" cy="269.19" r="0.84" fill="#5a1ef2"/>
<circle cx="134.22" cy="272.74" r="1.41" fill="#5a1ef2"/>
<circle cx="124.63" cy="274.45" r="2.53" fill="#5a1ef2"/>
<circle cx="128.31" cy="277.08" r="0.84" fill="#5a1ef2"/>
<circle cx="122.79" cy="279.71" r="1.41" fill="#5a1ef2"/>
<circle cx="113.20" cy="279.71" r="1.41" fill="#5a1ef2"/>
<circle cx="143.03" cy="274.06" r="1.12" fill="#5a1ef2"/>
<circle cx="138.82" cy="279.05" r="1.97" fill="#5a1ef2"/>
<circle cx="146.71" cy="278.00" r="1.41" fill="#5a1ef2"/>
<circle cx="145.00" cy="281.02" r="1.69" fill="#5a1ef2"/>
<circle cx="150.25" cy="281.94" r="1.12" fill="#5a1ef2"/>
<circle cx="141.06" cy="283.65" r="1.41" fill="#5a1ef2"/>
<circle cx="156.17" cy="275.50" r="1.97" fill="#5a1ef2"/>
<circle cx="158.53" cy="277.08" r="1.41" fill="#5a1ef2"/>
<circle cx="157.22" cy="285.36" r="1.69" fill="#5a1ef2"/>
<circle cx="164.45" cy="288.64" r="2.53" fill="#5a1ef2"/>
<circle cx="174.96" cy="287.59" r="1.41" fill="#5a1ef2"/>
<circle cx="177.32" cy="274.45" r="1.41" fill="#5a1ef2"/>
<circle cx="181.53" cy="269.59" r="0.70" fill="#5a1ef2"/>
<circle cx="182.19" cy="278.79" r="0.84" fill="#5a1ef2"/>
<circle cx="180.22" cy="281.68" r="1.41" fill="#5a1ef2"/>
<circle cx="136.19" cy="290.61" r="1.69" fill="#5a1ef2"/>
<circle cx="140.14" cy="289.17" r="1.41" fill="#5a1ef2"/>
<circle cx="115.17" cy="296.13" r="1.69" fill="#5a1ef2"/>
<circle cx="139.22" cy="298.76" r="1.41" fill="#5a1ef2"/>
<circle cx="167.47" cy="298.76" r="1.41" fill="#5a1ef2"/>
<circle cx="180.87" cy="300.99" r="1.41" fill="#5a1ef2"/>
<circle cx="134.49" cy="305.99" r="0.84" fill="#5a1ef2"/>
<circle cx="127.39" cy="309.67" r="2.53" fill="#5a1ef2"/>
<circle cx="132.25" cy="312.56" r="2.25" fill="#5a1ef2"/>
<circle cx="142.11" cy="312.56" r="0.84" fill="#5a1ef2"/>
<circle cx="149.60" cy="313.61" r="1.97" fill="#5a1ef2"/>
<circle cx="147.36" cy="317.81" r="1.97" fill="#5a1ef2"/>
<circle cx="138.82" cy="318.08" r="0.84" fill="#5a1ef2"/>
<circle cx="164.84" cy="310.19" r="1.97" fill="#5a1ef2"/>
</g></g>
<clipPath id="tc3"><rect x="19.30" y="325.60" width="85.90" height="84.80"/></clipPath>
<clipPath id="pc3"><circle cx="61.10" cy="367.70" r="36.60"/></clipPath>
<g clip-path="url(#tc3)">
<rect x="19.30" y="325.60" width="85.90" height="84.80" fill="#d3d3e3"/>
<circle cx="61.10" cy="367.70" r="40.30" fill="none" stroke="#b9b7cf" stroke-width="0.9"/>
<circle cx="61.10" cy="367.70" r="39.80" fill="#ebebf3"/>
<circle cx="61.10" cy="367.70" r="37.00" fill="#c9c7df" stroke="#b3b1cc" stroke-width="0.8"/>
<g clip-path="url(#pc3)" filter="url(#pb2)" opacity="0.9">
<rect x="21.70" y="328.30" width="4.43" height="78.80" fill="#bcb9d6"/>
<rect x="26.13" y="328.30" width="5.22" height="78.80" fill="#c2bfdb"/>
<rect x="31.35" y="328.30" width="6.75" height="78.80" fill="#cecbe2"/>
<rect x="38.10" y="328.30" width="6.63" height="78.80" fill="#c2bfdb"/>
<rect x="44.74" y="328.30" width="4.56" height="78.80" fill="#bcb9d6"/>
<rect x="49.29" y="328.30" width="4.15" height="78.80" fill="#c2bfdb"/>
<rect x="53.44" y="328.30" width="6.25" height="78.80" fill="#c2bfdb"/>
<rect x="59.69" y="328.30" width="5.38" height="78.80" fill="#bcb9d6"/>
<rect x="65.07" y="328.30" width="4.39" height="78.80" fill="#bcb9d6"/>
<rect x="69.46" y="328.30" width="8.21" height="78.80" fill="#c2bfdb"/>
<rect x="77.67" y="328.30" width="7.45" height="78.80" fill="#cecbe2"/>
<rect x="85.12" y="328.30" width="3.96" height="78.80" fill="#cecbe2"/>
<rect x="89.07" y="328.30" width="4.81" height="78.80" fill="#cecbe2"/>
<rect x="93.88" y="328.30" width="7.94" height="78.80" fill="#c8c5de"/>
</g>
<g filter="url(#pb)">
<circle cx="47.57" cy="332.86" r="1.41" fill="#5a1ef2"/>
<circle cx="57.42" cy="331.54" r="1.97" fill="#5a1ef2"/>
<circle cx="60.05" cy="332.20" r="1.97" fill="#5a1ef2"/>
<circle cx="64.65" cy="332.46" r="2.25" fill="#5a1ef2"/>
<circle cx="67.28" cy="331.15" r="1.12" fill="#5a1ef2"/>
<circle cx="74.50" cy="334.17" r="1.69" fill="#5a1ef2"/>
<circle cx="42.31" cy="336.80" r="1.41" fill="#5a1ef2"/>
<circle cx="48.88" cy="336.80" r="1.97" fill="#5a1ef2"/>
<circle cx="53.48" cy="338.11" r="1.41" fill="#5a1ef2"/>
<circle cx="57.42" cy="339.43" r="1.69" fill="#5a1ef2"/>
<circle cx="60.05" cy="336.14" r="1.69" fill="#5a1ef2"/>
<circle cx="67.28" cy="338.11" r="1.97" fill="#5a1ef2"/>
<circle cx="72.53" cy="337.45" r="1.41" fill="#5a1ef2"/>
<circle cx="75.82" cy="338.77" r="1.41" fill="#5a1ef2"/>
<circle cx="37.71" cy="340.08" r="2.25" fill="#5a1ef2"/>
<circle cx="35.74" cy="342.05" r="1.69" fill="#5a1ef2"/>
<circle cx="42.97" cy="340.08" r="1.69" fill="#5a1ef2"/>
<circle cx="62.68" cy="340.74" r="1.69" fill="#5a1ef2"/>
<circle cx="41.00" cy="343.76" r="1.12" fill="#5a1ef2"/>
<circle cx="53.48" cy="344.68" r="1.41" fill="#5a1ef2"/>
<circle cx="58.08" cy="344.02" r="1.41" fill="#5a1ef2"/>
<circle cx="69.91" cy="344.02" r="1.69" fill="#5a1ef2"/>
<circle cx="72.53" cy="341.40" r="1.41" fill="#5a1ef2"/>
<circle cx="86.33" cy="343.37" r="1.41" fill="#5a1ef2"/>
<circle cx="88.96" cy="344.68" r="1.12" fill="#5a1ef2"/>
<circle cx="37.05" cy="349.28" r="2.25" fill="#5a1ef2"/>
<circle cx="34.43" cy="347.31" r="1.12" fill="#5a1ef2"/>
<circle cx="44.28" cy="350.60" r="1.69" fill="#5a1ef2"/>
<circle cx="46.91" cy="350.60" r="1.41" fill="#5a1ef2"/>
<circle cx="51.51" cy="349.28" r="1.12" fill="#5a1ef2"/>
<circle cx="58.08" cy="350.60" r="1.97" fill="#5a1ef2"/>
<circle cx="91.59" cy="348.62" r="1.69" fill="#5a1ef2"/>
<circle cx="27.20" cy="353.88" r="1.41" fill="#5a1ef2"/>
<circle cx="71.88" cy="355.19" r="1.41" fill="#5a1ef2"/>
<circle cx="67.93" cy="357.82" r="1.69" fill="#5a1ef2"/>
<circle cx="88.96" cy="357.43" r="1.41" fill="#5a1ef2"/>
<circle cx="94.22" cy="354.54" r="1.12" fill="#5a1ef2"/>
<circle cx="39.02" cy="357.82" r="1.12" fill="#5a1ef2"/>
<circle cx="33.11" cy="360.45" r="1.41" fill="#5a1ef2"/>
<circle cx="94.87" cy="360.45" r="1.69" fill="#5a1ef2"/>
<circle cx="27.86" cy="362.42" r="1.41" fill="#5a1ef2"/>
<circle cx="64.65" cy="362.42" r="1.41" fill="#5a1ef2"/>
<circle cx="31.80" cy="365.05" r="1.12" fill="#5a1ef2"/>
<circle cx="37.05" cy="366.36" r="1.12" fill="#5a1ef2"/>
<circle cx="46.91" cy="365.71" r="1.97" fill="#5a1ef2"/>
<circle cx="52.82" cy="364.39" r="1.12" fill="#5a1ef2"/>
<circle cx="56.76" cy="365.71" r="1.69" fill="#5a1ef2"/>
<circle cx="66.62" cy="365.71" r="1.97" fill="#5a1ef2"/>
<circle cx="92.90" cy="363.74" r="1.69" fill="#5a1ef2"/>
<circle cx="93.56" cy="367.68" r="1.12" fill="#5a1ef2"/>
<circle cx="29.17" cy="370.04" r="1.41" fill="#5a1ef2"/>
<circle cx="48.88" cy="371.36" r="1.12" fill="#5a1ef2"/>
<circle cx="62.68" cy="368.99" r="1.97" fill="#5a1ef2"/>
<circle cx="66.62" cy="370.31" r="1.69" fill="#5a1ef2"/>
<circle cx="71.22" cy="371.62" r="2.53" fill="#5a1ef2"/>
<circle cx="69.25" cy="372.28" r="1.41" fill="#5a1ef2"/>
<circle cx="63.34" cy="373.59" r="0.84" fill="#5a1ef2"/>
<circle cx="52.82" cy="372.93" r="1.41" fill="#5a1ef2"/>
<circle cx="29.83" cy="373.59" r="1.97" fill="#5a1ef2"/>
<circle cx="24.57" cy="375.56" r="1.41" fill="#5a1ef2"/>
<circle cx="90.27" cy="373.59" r="2.25" fill="#5a1ef2"/>
<circle cx="94.22" cy="372.28" r="2.25" fill="#5a1ef2"/>
<circle cx="78.45" cy="376.61" r="2.25" fill="#5a1ef2"/>
<circle cx="85.02" cy="376.88" r="1.69" fill="#5a1ef2"/>
<circle cx="88.30" cy="378.19" r="1.41" fill="#5a1ef2"/>
<circle cx="42.31" cy="376.88" r="1.41" fill="#5a1ef2"/>
<circle cx="44.28" cy="380.16" r="0.84" fill="#5a1ef2"/>
<circle cx="31.80" cy="380.16" r="1.41" fill="#5a1ef2"/>
<circle cx="37.05" cy="381.87" r="1.97" fill="#5a1ef2"/>
<circle cx="81.73" cy="381.87" r="1.97" fill="#5a1ef2"/>
<circle cx="91.59" cy="382.79" r="2.53" fill="#5a1ef2"/>
<circle cx="75.82" cy="378.85" r="0.84" fill="#5a1ef2"/>
<circle cx="27.86" cy="383.45" r="1.41" fill="#5a1ef2"/>
<circle cx="44.94" cy="385.81" r="1.69" fill="#5a1ef2"/>
<circle cx="39.68" cy="387.13" r="1.69" fill="#5a1ef2"/>
<circle cx="65.31" cy="385.81" r="1.41" fill="#5a1ef2"/>
<circle cx="76.48" cy="387.39" r="1.41" fill="#5a1ef2"/>
<circle cx="81.07" cy="391.33" r="1.97" fill="#5a1ef2"/>
<circle cx="85.67" cy="391.33" r="1.97" fill="#5a1ef2"/>
<circle cx="88.30" cy="390.67" r="1.41" fill="#5a1ef2"/>
<circle cx="48.22" cy="390.02" r="1.41" fill="#5a1ef2"/>
<circle cx="44.28" cy="392.65" r="1.97" fill="#5a1ef2"/>
<circle cx="50.19" cy="395.01" r="2.25" fill="#5a1ef2"/>
<circle cx="77.79" cy="394.22" r="1.69" fill="#5a1ef2"/>
<circle cx="35.08" cy="395.01" r="1.41" fill="#5a1ef2"/>
<circle cx="61.36" cy="397.24" r="1.69" fill="#5a1ef2"/>
<circle cx="65.96" cy="395.93" r="1.97" fill="#5a1ef2"/>
<circle cx="62.68" cy="395.01" r="1.12" fill="#5a1ef2"/>
<circle cx="46.25" cy="401.58" r="1.41" fill="#5a1ef2"/>
<circle cx="65.31" cy="404.21" r="1.12" fill="#5a1ef2"/>
<circle cx="77.79" cy="400.53" r="0.84" fill="#5a1ef2"/>
</g></g>
<clipPath id="tc4"><rect x="106.80" y="325.60" width="85.20" height="84.80"/></clipPath>
<clipPath id="pc4"><circle cx="149.80" cy="368.20" r="36.80"/></clipPath>
<g clip-path="url(#tc4)">
<rect x="106.80" y="325.60" width="85.20" height="84.80" fill="#d3d3e3"/>
<circle cx="149.80" cy="368.20" r="40.50" fill="none" stroke="#b9b7cf" stroke-width="0.9"/>
<circle cx="149.80" cy="368.20" r="40.00" fill="#ebebf3"/>
<circle cx="149.80" cy="368.20" r="37.20" fill="#c9c7df" stroke="#b3b1cc" stroke-width="0.8"/>
<g clip-path="url(#pc4)" filter="url(#pb2)" opacity="0.9">
<rect x="110.20" y="328.60" width="4.42" height="79.20" fill="#cecbe2"/>
<rect x="114.62" y="328.60" width="7.33" height="79.20" fill="#c2bfdb"/>
<rect x="121.94" y="328.60" width="3.93" height="79.20" fill="#cecbe2"/>
<rect x="125.87" y="328.60" width="3.12" height="79.20" fill="#c8c5de"/>
<rect x="128.99" y="328.60" width="7.80" height="79.20" fill="#cecbe2"/>
<rect x="136.80" y="328.60" width="4.33" height="79.20" fill="#c8c5de"/>
<rect x="141.13" y="328.60" width="4.66" height="79.20" fill="#bcb9d6"/>
<rect x="145.79" y="328.60" width="7.96" height="79.20" fill="#c8c5de"/>
<rect x="153.75" y="328.60" width="4.29" height="79.20" fill="#cecbe2"/>
<rect x="158.03" y="328.60" width="7.97" height="79.20" fill="#c8c5de"/>
<rect x="166.01" y="328.60" width="7.80" height="79.20" fill="#bcb9d6"/>
<rect x="173.81" y="328.60" width="3.99" height="79.20" fill="#c8c5de"/>
<rect x="177.80" y="328.60" width="6.76" height="79.20" fill="#c8c5de"/>
<rect x="184.56" y="328.60" width="3.52" height="79.20" fill="#c8c5de"/>
<rect x="188.08" y="328.60" width="7.03" height="79.20" fill="#bcb9d6"/>
</g>
<g filter="url(#pb)">
<circle cx="160.77" cy="334.17" r="1.12" fill="#5a1ef2"/>
<circle cx="150.65" cy="337.19" r="0.70" fill="#5a1ef2"/>
<circle cx="167.34" cy="339.03" r="1.97" fill="#5a1ef2"/>
<circle cx="123.05" cy="344.02" r="2.25" fill="#5a1ef2"/>
<circle cx="122.40" cy="342.71" r="1.69" fill="#5a1ef2"/>
<circle cx="166.81" cy="345.60" r="1.69" fill="#5a1ef2"/>
<circle cx="169.05" cy="345.08" r="1.69" fill="#5a1ef2"/>
<circle cx="174.96" cy="342.71" r="0.84" fill="#5a1ef2"/>
<circle cx="174.96" cy="346.65" r="2.25" fill="#5a1ef2"/>
<circle cx="176.01" cy="348.62" r="1.69" fill="#5a1ef2"/>
<circle cx="117.14" cy="353.22" r="2.25" fill="#5a1ef2"/>
<circle cx="117.80" cy="355.85" r="1.12" fill="#5a1ef2"/>
<circle cx="151.96" cy="353.88" r="1.41" fill="#5a1ef2"/>
<circle cx="152.62" cy="356.11" r="1.41" fill="#5a1ef2"/>
<circle cx="132.25" cy="356.90" r="1.41" fill="#5a1ef2"/>
<circle cx="176.93" cy="356.51" r="2.25" fill="#5a1ef2"/>
<circle cx="163.79" cy="358.22" r="1.41" fill="#5a1ef2"/>
<circle cx="137.90" cy="362.68" r="2.25" fill="#5a1ef2"/>
<circle cx="164.71" cy="362.42" r="1.97" fill="#5a1ef2"/>
<circle cx="172.99" cy="363.74" r="1.69" fill="#5a1ef2"/>
<circle cx="182.19" cy="364.00" r="1.12" fill="#5a1ef2"/>
<circle cx="155.25" cy="363.74" r="0.84" fill="#5a1ef2"/>
<circle cx="145.39" cy="364.79" r="1.69" fill="#5a1ef2"/>
<circle cx="139.48" cy="367.02" r="1.97" fill="#5a1ef2"/>
<circle cx="143.42" cy="368.34" r="1.69" fill="#5a1ef2"/>
<circle cx="148.68" cy="368.34" r="1.97" fill="#5a1ef2"/>
<circle cx="149.99" cy="367.02" r="1.41" fill="#5a1ef2"/>
<circle cx="127.00" cy="366.63" r="1.12" fill="#5a1ef2"/>
<circle cx="131.86" cy="367.68" r="1.12" fill="#5a1ef2"/>
<circle cx="165.50" cy="368.34" r="1.12" fill="#5a1ef2"/>
<circle cx="176.01" cy="369.65" r="1.69" fill="#5a1ef2"/>
<circle cx="112.94" cy="374.25" r="1.69" fill="#5a1ef2"/>
<circle cx="122.40" cy="374.25" r="1.69" fill="#5a1ef2"/>
<circle cx="126.34" cy="375.83" r="1.97" fill="#5a1ef2"/>
<circle cx="137.90" cy="376.88" r="1.41" fill="#5a1ef2"/>
<circle cx="162.08" cy="374.25" r="1.97" fill="#5a1ef2"/>
<circle cx="174.96" cy="376.88" r="1.97" fill="#5a1ef2"/>
<circle cx="116.09" cy="383.71" r="1.97" fill="#5a1ef2"/>
<circle cx="172.59" cy="382.79" r="1.69" fill="#5a1ef2"/>
<circle cx="143.16" cy="389.36" r="1.97" fill="#5a1ef2"/>
<circle cx="168.13" cy="394.22" r="1.97" fill="#5a1ef2"/>
<circle cx="172.07" cy="392.25" r="1.69" fill="#5a1ef2"/>
<circle cx="157.88" cy="397.64" r="2.25" fill="#5a1ef2"/>
<circle cx="149.34" cy="402.50" r="1.97" fill="#5a1ef2"/>
</g></g>
<text x="16.80" y="282.00" font-size="11.15" text-anchor="middle" fill="#1a1a1a" transform="rotate(-90 16.8 282.0)">MKN-45</text>
<text x="16.80" y="368.00" font-size="11.15" text-anchor="middle" fill="#1a1a1a" transform="rotate(-90 16.8 368.0)">HGC-27</text>
<text x="62.30" y="423.80" font-size="11.15" text-anchor="middle" fill="#1a1a1a">shNC</text>
<text x="149.60" y="423.80" font-size="11.15" text-anchor="middle" fill="#1a1a1a">shHDAC3</text>
</svg></body></html>
